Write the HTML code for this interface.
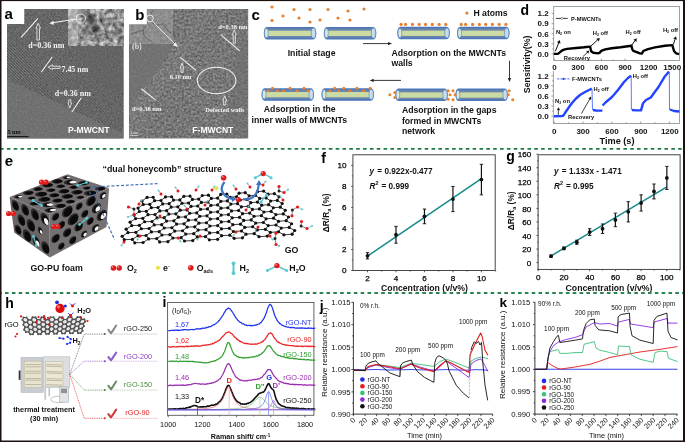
<!DOCTYPE html><html><head><meta charset="utf-8"><style>html,body{margin:0;padding:0;background:#fff;width:685px;height:442px;overflow:hidden}svg{display:block;filter:blur(0.3px)}</style></head><body><svg width="685" height="442" viewBox="0 0 685 442" font-family="Liberation Sans, sans-serif"><defs><filter id="nzA" x="0" y="0" width="1" height="1" color-interpolation-filters="sRGB">
<feTurbulence type="fractalNoise" baseFrequency="0.55" numOctaves="2" seed="3"/>
<feColorMatrix type="matrix" values="0.2777777777777778 0 0 0 0.2561111111111111 0.2777777777777778 0 0 0 0.2561111111111111 0.2777777777777778 0 0 0 0.2561111111111111 0 0 0 0 1"/>
</filter><filter id="nzAi" x="0" y="0" width="1" height="1" color-interpolation-filters="sRGB">
<feTurbulence type="fractalNoise" baseFrequency="0.22" numOctaves="3" seed="9"/>
<feColorMatrix type="matrix" values="0.9444444444444445 0 0 0 0.1077777777777777 0.9444444444444445 0 0 0 0.1077777777777777 0.9444444444444445 0 0 0 0.1077777777777777 0 0 0 0 1"/>
</filter><filter id="nzB" x="0" y="0" width="1" height="1" color-interpolation-filters="sRGB">
<feTurbulence type="fractalNoise" baseFrequency="0.45" numOctaves="2" seed="11"/>
<feColorMatrix type="matrix" values="0.4166666666666667 0 0 0 0.2566666666666667 0.4166666666666667 0 0 0 0.2566666666666667 0.4166666666666667 0 0 0 0.2566666666666667 0 0 0 0 1"/>
</filter><filter id="nzBi" x="0" y="0" width="1" height="1" color-interpolation-filters="sRGB">
<feTurbulence type="fractalNoise" baseFrequency="0.35" numOctaves="2" seed="4"/>
<feColorMatrix type="matrix" values="0.19444444444444448 0 0 0 0.45777777777777784 0.19444444444444448 0 0 0 0.45777777777777784 0.19444444444444448 0 0 0 0.45777777777777784 0 0 0 0 1"/>
</filter><pattern id="fringe" width="2.1" height="2.1" patternUnits="userSpaceOnUse" patternTransform="rotate(45)">
<rect width="2.1" height="0.8" fill="#888" opacity="0.55"/><rect y="1.05" width="2.1" height="0.7" fill="#3a3a3a" opacity="0.35"/></pattern><filter id="blur1" x="-50%" y="-50%" width="200%" height="200%"><feGaussianBlur stdDeviation="1.2"/></filter><filter id="blur05" x="-50%" y="-50%" width="200%" height="200%"><feGaussianBlur stdDeviation="0.6"/></filter></defs><rect width="685" height="442" fill="#fff"/><clipPath id="clipA"><polygon points="7,24 24.3,24 24.3,9 123.6,9 123.6,138.6 7,138.6"/></clipPath>
<g clip-path="url(#clipA)">
<rect x="7" y="9" width="117" height="130" filter="url(#nzA)"/>
<polygon points="7,24 24,9 68,9 68,45 100,45 123.6,70 123.6,134 7,79" fill="url(#fringe)" opacity="0.6"/>
<polygon points="7,40 123.6,98 123.6,134 7,79" fill="url(#fringe)" opacity="0.7"/>
<polygon points="7,79 123.6,134 123.6,138.6 7,138.6" fill="#7c7c7c" opacity="0.8"/>
<polygon points="7,79 123.6,134 123.6,138.6 7,138.6" filter="url(#nzA)" opacity="0.3"/>
<polygon points="123.6,45 123.6,95 90,78 75,45" fill="#646464" opacity="0.45"/>
</g>
<rect x="68" y="9" width="55.6" height="36.3" filter="url(#nzAi)"/>
<rect x="68" y="9" width="10" height="36.3" fill="#c8c8c8" opacity="0.5"/>
<clipPath id="clipAi"><rect x="68" y="9" width="55.6" height="36.3"/></clipPath>
<g clip-path="url(#clipAi)"><g filter="url(#blur1)"><ellipse cx="84" cy="11.5" rx="6" ry="2.5" fill="#666" opacity="0.6"/><ellipse cx="91" cy="20" rx="4" ry="5" fill="#3a3a3a" opacity="0.75"/><ellipse cx="95" cy="29" rx="4" ry="4" fill="#2e2e2e" opacity="0.75"/><ellipse cx="85" cy="30" rx="3" ry="4" fill="#555" opacity="0.6"/><ellipse cx="98" cy="38" rx="4" ry="3" fill="#505050" opacity="0.55"/><ellipse cx="108" cy="20" rx="6" ry="3" fill="#777" opacity="0.5"/><ellipse cx="113" cy="33" rx="6" ry="3" fill="#6a6a6a" opacity="0.5"/><ellipse cx="120.5" cy="31" rx="1.6" ry="2.2" fill="#2a2a2a" opacity="0.8"/><ellipse cx="81" cy="40" rx="3" ry="2" fill="#666" opacity="0.5"/><ellipse cx="90" cy="16" rx="1.8" ry="1.6" fill="#111"/><ellipse cx="96" cy="30" rx="1.8" ry="1.6" fill="#111"/></g></g>
<g stroke="#f2f2f2" fill="none" stroke-width="1.1"><line x1="21.1" y1="37.3" x2="37.9" y2="18.3"/><line x1="41.4" y1="72" x2="52.2" y2="57"/><line x1="71.9" y1="112" x2="81.4" y2="97.8"/><line x1="76.5" y1="19" x2="51" y2="23" stroke-width="1"/><circle cx="80.8" cy="18.6" r="4.6" stroke-width="0.9"/></g>
<polygon points="49.5,23.3 53.5,20.8 53.8,24.9" fill="#f2f2f2"/>
<polygon points="38.2,23.2 40.5,28.2 39.49,28.2 39.49,40 36.91,40 36.91,28.2 35.9,28.2" fill="none" stroke="#f2f2f2" stroke-width="0.8"/>
<polygon points="69.8,108 71.6,103 70.81,103 70.81,99.8 68.79,99.8 68.79,103 68,103" fill="none" stroke="#f2f2f2" stroke-width="0.8"/>
<polygon points="48.1,67.2 52.5,64.8 52.5,66.2 60.1,66.2 60.1,68.4 52.5,68.4 52.5,69.6" fill="none" stroke="#f2f2f2" stroke-width="0.8"/>
<text x="28.3" y="47.7" font-size="8" fill="#f2f2f2" font-weight="bold" text-anchor="start" font-family="Liberation Serif" >d=0.36 nm</text>
<text x="61.5" y="72" font-size="7.9" fill="#f2f2f2" font-weight="bold" text-anchor="start" font-family="Liberation Serif" >7.45 nm</text>
<text x="54.7" y="95.7" font-size="8" fill="#f2f2f2" font-weight="bold" text-anchor="start" font-family="Liberation Serif" >d=0.36 nm</text>
<text x="68" y="133.2" font-size="8.6" fill="#fff" font-weight="bold" text-anchor="start" font-family="Liberation Sans" >P-MWCNT</text>
<line x1="7.3" y1="136.6" x2="28.6" y2="136.6" stroke="#111" stroke-width="1"/>
<text x="7.4" y="134.2" font-size="6.2" fill="#111" font-weight="bold" text-anchor="start" font-family="Liberation Serif" >5 nm</text>
<text x="4.6" y="18.7" font-size="15" fill="#000" font-weight="bold" text-anchor="start" font-family="Liberation Sans" >a</text>
<clipPath id="clipB"><polygon points="129,24.4 146.9,24.4 146.9,9 248.2,9 248.2,138.6 129,138.6"/></clipPath>
<g clip-path="url(#clipB)">
<rect x="129" y="9" width="120" height="130" filter="url(#nzB)"/>
<polygon points="129,44 176,44 137,98 129,110" fill="#717171" opacity="0.75"/>
<polygon points="129,112 137,98 178,44 196,9 214,9 194,46 152,108 140,138.6 129,138.6" fill="#8c8c8c" opacity="0.16"/>
<polygon points="236,52 248.2,40 248.2,138.6 222,138.6 230,100" fill="#696969" opacity="0.35"/>
<polygon points="228,9 248.2,9 248.2,100 232,110 236,60" fill="url(#fringe)" opacity="0.5"/>
<polygon points="200,60 248.2,20 248.2,138.6 200,138.6" fill="#888" opacity="0.06"/>
<rect x="129" y="9" width="43.8" height="34.8" filter="url(#nzBi)"/>
<g stroke="#333" stroke-width="0.55" fill="none" opacity="0.85"><path d="M146.9,25.4 C144.4,27.4 143.2,29.5 143.4,31.4 C143.6,34 144,35.5 144.4,35.9 C145.5,37.5 146.5,38.5 147.4,38.8 C149,40 150.5,41 151.4,41.3"/><path d="M152.4,22.9 C154,23.8 155,24.3 155.9,24.4 C157.5,24.8 159,25 160.3,24.9 C161.8,24.6 162.5,23.7 163.3,23.9 C164.5,24.5 165,25.5 165.3,26.4 C166,28 167,30 167.8,30.9 C169,32 170,32.5 171.3,32.9"/><path d="M131,34.4 C133,33.5 134.5,32.8 136,32.4 C138,31.6 139.5,31.2 140.9,30.9 C142,30.5 142.8,30.1 143.4,29.9"/><path d="M150.9,14 C151.5,12.5 152,11.5 152.4,11 C152.7,10.3 152.8,9.8 152.9,9.5"/></g>
</g>
<g stroke="#f2f2f2" fill="none" stroke-width="1.1"><circle cx="149.9" cy="18.4" r="3.4" stroke-width="0.9"/><line x1="152.2" y1="21" x2="176.2" y2="45.2" stroke-width="0.9"/><line x1="220.7" y1="34.6" x2="239.7" y2="50.9"/><line x1="180" y1="57.1" x2="196.2" y2="70.4"/><line x1="141.3" y1="88.7" x2="155.5" y2="99.9"/><ellipse cx="216.6" cy="80.5" rx="19.3" ry="13.2"/></g>
<polygon points="177.9,47 172.8,45.2 175.8,42.2" fill="#f2f2f2"/>
<polygon points="234.3,29.8 236.2,34.8 235.36,34.8 235.36,43.3 233.24,43.3 233.24,34.8 232.4,34.8" fill="none" stroke="#f2f2f2" stroke-width="0.8"/>
<polygon points="182,63.2 183.8,68.2 183.01,68.2 183.01,72.4 180.99,72.4 180.99,68.2 180.2,68.2" fill="none" stroke="#f2f2f2" stroke-width="0.8"/>
<polygon points="224.7,95.8 226.6,100.8 225.76,100.8 225.76,105 223.64,105 223.64,100.8 222.8,100.8" fill="none" stroke="#f2f2f2" stroke-width="0.8"/>
<text x="218.2" y="28.7" font-size="6.5" fill="#f2f2f2" font-weight="bold" text-anchor="start" font-family="Liberation Serif" >d=0.38 nm</text>
<text x="169.7" y="78.5" font-size="6.4" fill="#f2f2f2" font-weight="bold" text-anchor="start" font-family="Liberation Serif" >8.10 nm</text>
<text x="132" y="111.1" font-size="6.5" fill="#f2f2f2" font-weight="bold" text-anchor="start" font-family="Liberation Serif" >d=0.38 nm</text>
<text x="205.3" y="112.1" font-size="6.4" fill="#f2f2f2" font-weight="bold" text-anchor="start" font-family="Liberation Serif" >Defected walls</text>
<text x="132" y="48.6" font-size="8" fill="#ddd" font-weight="bold" text-anchor="start" font-family="Liberation Serif" >(b)</text>
<text x="192.3" y="132.5" font-size="8.6" fill="#fff" font-weight="bold" text-anchor="start" font-family="Liberation Sans" >F-MWCNT</text>
<text x="130.5" y="134" font-size="3.5" fill="#f2f2f2" font-weight="normal" text-anchor="start" font-family="Liberation Serif" >2 nm</text>
<line x1="130" y1="135.5" x2="138" y2="135.5" stroke="#eee" stroke-width="0.6"/>
<text x="135.3" y="20.1" font-size="15" fill="#000" font-weight="bold" text-anchor="start" font-family="Liberation Sans" >b</text>
<text x="251.6" y="19.7" font-size="15" fill="#000" font-weight="bold" text-anchor="start" font-family="Liberation Sans" >c</text>
<rect x="263.8" y="26.9" width="52.5" height="12.5" rx="3" ry="6" fill="#4a78ba"/><rect x="265.8" y="28.6" width="48.5" height="9.1" fill="#6d85aa"/><rect x="267.3" y="30.7" width="44.5" height="5.3" fill="#cadca4"/><ellipse cx="266.4" cy="33.15" rx="1.9" ry="4.65" fill="#d6ebde" stroke="#5580bd" stroke-width="0.6"/><ellipse cx="313.5" cy="33.15" rx="2.2" ry="5.05" fill="#c6dcf0" stroke="#5580bd" stroke-width="0.6"/>
<rect x="323.8" y="26.9" width="52.5" height="12.5" rx="3" ry="6" fill="#4a78ba"/><rect x="325.8" y="28.6" width="48.5" height="9.1" fill="#6d85aa"/><rect x="327.3" y="30.7" width="44.5" height="5.3" fill="#cadca4"/><ellipse cx="326.4" cy="33.15" rx="1.9" ry="4.65" fill="#d6ebde" stroke="#5580bd" stroke-width="0.6"/><ellipse cx="373.5" cy="33.15" rx="2.2" ry="5.05" fill="#c6dcf0" stroke="#5580bd" stroke-width="0.6"/>
<rect x="397.3" y="26.8" width="52.5" height="12.5" rx="3" ry="6" fill="#4a78ba"/><rect x="399.3" y="28.5" width="48.5" height="9.1" fill="#6d85aa"/><rect x="400.8" y="30.6" width="44.5" height="5.3" fill="#cadca4"/><ellipse cx="399.9" cy="33.05" rx="1.9" ry="4.65" fill="#d6ebde" stroke="#5580bd" stroke-width="0.6"/><ellipse cx="447" cy="33.05" rx="2.2" ry="5.05" fill="#c6dcf0" stroke="#5580bd" stroke-width="0.6"/>
<rect x="457" y="26.8" width="52.5" height="12.5" rx="3" ry="6" fill="#4a78ba"/><rect x="459" y="28.5" width="48.5" height="9.1" fill="#6d85aa"/><rect x="460.5" y="30.6" width="44.5" height="5.3" fill="#cadca4"/><ellipse cx="459.6" cy="33.05" rx="1.9" ry="4.65" fill="#d6ebde" stroke="#5580bd" stroke-width="0.6"/><ellipse cx="506.7" cy="33.05" rx="2.2" ry="5.05" fill="#c6dcf0" stroke="#5580bd" stroke-width="0.6"/>
<rect x="261.5" y="88.2" width="52.5" height="12.5" rx="3" ry="6" fill="#4a78ba"/><rect x="263.5" y="89.9" width="48.5" height="9.1" fill="#6d85aa"/><rect x="265" y="92" width="44.5" height="5.3" fill="#cadca4"/><ellipse cx="264.1" cy="94.45" rx="1.9" ry="4.65" fill="#d6ebde" stroke="#5580bd" stroke-width="0.6"/><ellipse cx="311.2" cy="94.45" rx="2.2" ry="5.05" fill="#c6dcf0" stroke="#5580bd" stroke-width="0.6"/>
<rect x="321.5" y="88.2" width="52.5" height="12.5" rx="3" ry="6" fill="#4a78ba"/><rect x="323.5" y="89.9" width="48.5" height="9.1" fill="#6d85aa"/><rect x="325" y="92" width="44.5" height="5.3" fill="#cadca4"/><ellipse cx="324.1" cy="94.45" rx="1.9" ry="4.65" fill="#d6ebde" stroke="#5580bd" stroke-width="0.6"/><ellipse cx="371.2" cy="94.45" rx="2.2" ry="5.05" fill="#c6dcf0" stroke="#5580bd" stroke-width="0.6"/>
<rect x="395.3" y="88.6" width="52.5" height="12.5" rx="3" ry="6" fill="#4a78ba"/><rect x="397.3" y="90.3" width="48.5" height="9.1" fill="#6d85aa"/><rect x="398.8" y="92.4" width="44.5" height="5.3" fill="#cadca4"/><ellipse cx="397.9" cy="94.85" rx="1.9" ry="4.65" fill="#d6ebde" stroke="#5580bd" stroke-width="0.6"/><ellipse cx="445" cy="94.85" rx="2.2" ry="5.05" fill="#c6dcf0" stroke="#5580bd" stroke-width="0.6"/>
<rect x="455.4" y="88.6" width="52.5" height="12.5" rx="3" ry="6" fill="#4a78ba"/><rect x="457.4" y="90.3" width="48.5" height="9.1" fill="#6d85aa"/><rect x="458.9" y="92.4" width="44.5" height="5.3" fill="#cadca4"/><ellipse cx="458" cy="94.85" rx="1.9" ry="4.65" fill="#d6ebde" stroke="#5580bd" stroke-width="0.6"/><ellipse cx="505.1" cy="94.85" rx="2.2" ry="5.05" fill="#c6dcf0" stroke="#5580bd" stroke-width="0.6"/>
<circle cx="272" cy="7" r="1.6" fill="#e8812e"/>
<circle cx="294" cy="9.5" r="1.6" fill="#e8812e"/>
<circle cx="310" cy="9.5" r="1.6" fill="#e8812e"/>
<circle cx="328" cy="9.5" r="1.6" fill="#e8812e"/>
<circle cx="348" cy="11" r="1.6" fill="#e8812e"/>
<circle cx="364" cy="9" r="1.6" fill="#e8812e"/>
<circle cx="283" cy="16" r="1.6" fill="#e8812e"/>
<circle cx="299" cy="18" r="1.6" fill="#e8812e"/>
<circle cx="320" cy="20" r="1.6" fill="#e8812e"/>
<circle cx="338" cy="18" r="1.6" fill="#e8812e"/>
<circle cx="350" cy="20" r="1.6" fill="#e8812e"/>
<circle cx="272" cy="20.5" r="1.6" fill="#e8812e"/>
<circle cx="310" cy="22" r="1.6" fill="#e8812e"/>
<circle cx="401.1" cy="24.4" r="1.6" fill="#e8812e"/>
<circle cx="405.5" cy="24.4" r="1.6" fill="#e8812e"/>
<circle cx="412.5" cy="24.4" r="1.6" fill="#e8812e"/>
<circle cx="419.2" cy="24.4" r="1.6" fill="#e8812e"/>
<circle cx="425.6" cy="24.4" r="1.6" fill="#e8812e"/>
<circle cx="432.3" cy="24.4" r="1.6" fill="#e8812e"/>
<circle cx="439.1" cy="24.4" r="1.6" fill="#e8812e"/>
<circle cx="445.8" cy="24.4" r="1.6" fill="#e8812e"/>
<circle cx="461.2" cy="24.4" r="1.6" fill="#e8812e"/>
<circle cx="465.6" cy="24.4" r="1.6" fill="#e8812e"/>
<circle cx="472.6" cy="24.4" r="1.6" fill="#e8812e"/>
<circle cx="479.3" cy="24.4" r="1.6" fill="#e8812e"/>
<circle cx="485.7" cy="24.4" r="1.6" fill="#e8812e"/>
<circle cx="492.4" cy="24.4" r="1.6" fill="#e8812e"/>
<circle cx="499.2" cy="24.4" r="1.6" fill="#e8812e"/>
<circle cx="505.9" cy="24.4" r="1.6" fill="#e8812e"/>
<circle cx="268.3" cy="90.8" r="1.55" fill="#e8812e"/>
<circle cx="272.5" cy="88.2" r="1.55" fill="#e8812e"/>
<circle cx="277.4" cy="90.8" r="1.55" fill="#e8812e"/>
<circle cx="283.5" cy="90.8" r="1.55" fill="#e8812e"/>
<circle cx="290.1" cy="88.2" r="1.55" fill="#e8812e"/>
<circle cx="297.1" cy="90.8" r="1.55" fill="#e8812e"/>
<circle cx="304" cy="88.2" r="1.55" fill="#e8812e"/>
<circle cx="308.2" cy="90.8" r="1.55" fill="#e8812e"/>
<circle cx="330" cy="90.8" r="1.55" fill="#e8812e"/>
<circle cx="334.7" cy="88.2" r="1.55" fill="#e8812e"/>
<circle cx="338.5" cy="90.8" r="1.55" fill="#e8812e"/>
<circle cx="343.8" cy="88.2" r="1.55" fill="#e8812e"/>
<circle cx="349.9" cy="90.8" r="1.55" fill="#e8812e"/>
<circle cx="356.9" cy="88.2" r="1.55" fill="#e8812e"/>
<circle cx="363.6" cy="90.8" r="1.55" fill="#e8812e"/>
<circle cx="370.2" cy="88.2" r="1.55" fill="#e8812e"/>
<circle cx="389.9" cy="94.8" r="1.5" fill="#e8812e"/>
<circle cx="394.9" cy="92.6" r="1.5" fill="#e8812e"/>
<circle cx="394.9" cy="97.4" r="1.5" fill="#e8812e"/>
<circle cx="448.1" cy="90.8" r="1.5" fill="#e8812e"/>
<circle cx="453" cy="90.8" r="1.5" fill="#e8812e"/>
<circle cx="450" cy="94.8" r="1.5" fill="#e8812e"/>
<circle cx="455" cy="94.8" r="1.5" fill="#e8812e"/>
<circle cx="448.1" cy="99.3" r="1.5" fill="#e8812e"/>
<circle cx="453" cy="99.7" r="1.5" fill="#e8812e"/>
<circle cx="509.2" cy="90.8" r="1.5" fill="#e8812e"/>
<circle cx="508.2" cy="94.8" r="1.5" fill="#e8812e"/>
<circle cx="512.7" cy="99.7" r="1.5" fill="#e8812e"/>
<circle cx="466.9" cy="13.1" r="1.6" fill="#e8812e"/>
<text x="473.4" y="16.4" font-size="8.7" fill="#111" font-weight="bold" text-anchor="start" font-family="Liberation Sans" >H atoms</text>
<text x="287.7" y="55.8" fill="#111" font-weight="bold" font-size="8.7" font-family="Liberation Sans">Initial stage</text>
<text x="391.4" y="56.4" fill="#111" font-weight="bold" font-size="8.7" font-family="Liberation Sans">Adsorption on the MWCNTs</text>
<text x="391.4" y="65.8" fill="#111" font-weight="bold" font-size="8.7" font-family="Liberation Sans">walls</text>
<text x="263.8" y="111.6" fill="#111" font-weight="bold" font-size="8.7" font-family="Liberation Sans">Adsorption in the</text>
<text x="251.6" y="122.6" fill="#111" font-weight="bold" font-size="8.7" font-family="Liberation Sans">inner walls of MWCNTs</text>
<text x="401.9" y="113.2" fill="#111" font-weight="bold" font-size="8.7" font-family="Liberation Sans">Adsorption in the gaps</text>
<text x="401.9" y="123.8" fill="#111" font-weight="bold" font-size="8.7" font-family="Liberation Sans">formed in MWCNTs</text>
<text x="401.9" y="133.6" fill="#111" font-weight="bold" font-size="8.7" font-family="Liberation Sans">network</text>
<g stroke="#222" stroke-width="0.9" fill="#222"><line x1="363" y1="43.6" x2="389" y2="43.6"/><polygon points="392,43.6 388,41.9 388,45.3" stroke="none"/><line x1="509.5" y1="60.7" x2="509.5" y2="79"/><polygon points="509.5,82 507.8,78 511.2,78" stroke="none"/><line x1="401" y1="80.4" x2="373" y2="80.4"/><polygon points="369.7,80.4 373.7,78.7 373.7,82.1" stroke="none"/></g>
<text x="520.6" y="14.6" font-size="14" fill="#000" font-weight="bold" text-anchor="start" font-family="Liberation Sans" >d</text>
<rect x="553.7" y="6.4" width="125.8" height="54" fill="none" stroke="#8a8a8a" stroke-width="0.8"/>
<polyline points="553.4,71 553.4,123.5 679.5,123.5 679.5,69.5" fill="none" stroke="#8a8a8a" stroke-width="0.8"/>
<g stroke="#777" stroke-width="0.7"><line x1="551.6" y1="53.9" x2="553.7" y2="53.9"/><line x1="552.4" y1="48.82" x2="553.7" y2="48.82"/><line x1="551.6" y1="43.83" x2="553.7" y2="43.83"/><line x1="552.4" y1="38.75" x2="553.7" y2="38.75"/><line x1="551.6" y1="33.76" x2="553.7" y2="33.76"/><line x1="552.4" y1="28.68" x2="553.7" y2="28.68"/><line x1="551.6" y1="23.69" x2="553.7" y2="23.69"/><line x1="552.4" y1="18.61" x2="553.7" y2="18.61"/><line x1="551.6" y1="13.62" x2="553.7" y2="13.62"/><line x1="554.4" y1="60.4" x2="554.4" y2="58.6"/><line x1="566.18" y1="60.4" x2="566.18" y2="59.4"/><line x1="577.96" y1="60.4" x2="577.96" y2="58.6"/><line x1="589.74" y1="60.4" x2="589.74" y2="59.4"/><line x1="601.52" y1="60.4" x2="601.52" y2="58.6"/><line x1="613.3" y1="60.4" x2="613.3" y2="59.4"/><line x1="625.08" y1="60.4" x2="625.08" y2="58.6"/><line x1="551.3" y1="116.2" x2="553.4" y2="116.2"/><line x1="552.1" y1="111.15" x2="553.4" y2="111.15"/><line x1="551.3" y1="106.1" x2="553.4" y2="106.1"/><line x1="552.1" y1="101.05" x2="553.4" y2="101.05"/><line x1="551.3" y1="96" x2="553.4" y2="96"/><line x1="552.1" y1="90.95" x2="553.4" y2="90.95"/><line x1="551.3" y1="85.9" x2="553.4" y2="85.9"/><line x1="552.1" y1="80.85" x2="553.4" y2="80.85"/><line x1="551.3" y1="75.8" x2="553.4" y2="75.8"/><line x1="554.2" y1="123.5" x2="554.2" y2="121.5"/><line x1="568.6" y1="123.5" x2="568.6" y2="122.3"/><line x1="583" y1="123.5" x2="583" y2="121.5"/><line x1="597.4" y1="123.5" x2="597.4" y2="122.3"/><line x1="611.8" y1="123.5" x2="611.8" y2="121.5"/><line x1="626.2" y1="123.5" x2="626.2" y2="122.3"/><line x1="640.6" y1="123.5" x2="640.6" y2="121.5"/><line x1="655" y1="123.5" x2="655" y2="122.3"/><line x1="669.4" y1="123.5" x2="669.4" y2="121.5"/><line x1="683.8" y1="123.5" x2="683.8" y2="122.3"/></g>
<text x="548.6" y="56.7" text-anchor="end" font-size="8" font-weight="bold" font-family="Liberation Sans" fill="#111">0.0</text>
<text x="548.6" y="119" text-anchor="end" font-size="8" font-weight="bold" font-family="Liberation Sans" fill="#111">0.0</text>
<text x="548.6" y="46.63" text-anchor="end" font-size="8" font-weight="bold" font-family="Liberation Sans" fill="#111">0.3</text>
<text x="548.6" y="108.9" text-anchor="end" font-size="8" font-weight="bold" font-family="Liberation Sans" fill="#111">0.3</text>
<text x="548.6" y="36.56" text-anchor="end" font-size="8" font-weight="bold" font-family="Liberation Sans" fill="#111">0.6</text>
<text x="548.6" y="98.8" text-anchor="end" font-size="8" font-weight="bold" font-family="Liberation Sans" fill="#111">0.6</text>
<text x="548.6" y="26.49" text-anchor="end" font-size="8" font-weight="bold" font-family="Liberation Sans" fill="#111">0.9</text>
<text x="548.6" y="88.7" text-anchor="end" font-size="8" font-weight="bold" font-family="Liberation Sans" fill="#111">0.9</text>
<text x="548.6" y="16.42" text-anchor="end" font-size="8" font-weight="bold" font-family="Liberation Sans" fill="#111">1.2</text>
<text x="548.6" y="78.6" text-anchor="end" font-size="8" font-weight="bold" font-family="Liberation Sans" fill="#111">1.2</text>
<text x="554.4" y="70.1" text-anchor="middle" font-size="8" font-weight="bold" font-family="Liberation Sans" fill="#111">0</text>
<text x="577.96" y="70.1" text-anchor="middle" font-size="8" font-weight="bold" font-family="Liberation Sans" fill="#111">300</text>
<text x="601.52" y="70.1" text-anchor="middle" font-size="8" font-weight="bold" font-family="Liberation Sans" fill="#111">600</text>
<text x="625.08" y="70.1" text-anchor="middle" font-size="8" font-weight="bold" font-family="Liberation Sans" fill="#111">900</text>
<text x="648.64" y="70.1" text-anchor="middle" font-size="8" font-weight="bold" font-family="Liberation Sans" fill="#111">1200</text>
<text x="672.2" y="70.1" text-anchor="middle" font-size="8" font-weight="bold" font-family="Liberation Sans" fill="#111">1500</text>
<text x="554.2" y="134" text-anchor="middle" font-size="8" font-weight="bold" font-family="Liberation Sans" fill="#111">0</text>
<text x="583.1" y="134" text-anchor="middle" font-size="8" font-weight="bold" font-family="Liberation Sans" fill="#111">300</text>
<text x="612" y="134" text-anchor="middle" font-size="8" font-weight="bold" font-family="Liberation Sans" fill="#111">600</text>
<text x="640.9" y="134" text-anchor="middle" font-size="8" font-weight="bold" font-family="Liberation Sans" fill="#111">900</text>
<text x="669.8" y="134" text-anchor="middle" font-size="8" font-weight="bold" font-family="Liberation Sans" fill="#111">1200</text>
<text x="617" y="144.3" text-anchor="middle" font-size="9.2" font-weight="bold" font-family="Liberation Sans" fill="#111">Time (s)</text>
<text transform="translate(529.6,64.3) rotate(-90)" text-anchor="middle" font-size="8.8" font-weight="bold" font-family="Liberation Sans" fill="#111">Sensitivity(%)</text>
<polyline points="553.9,53.9 557.9,53.9 559.5,52.6 561.8,50.6 564,49.6 567.1,48.9 576.3,48 584.1,47.3 590.1,46.6 590.7,49.3 591.4,51.6 593.3,52.8 596,53.1 598.6,53.2 599.9,52.6 601.2,50.9 605.2,49.4 611.7,48.2 620.5,47.3 631.5,45.8 632.2,49.2 633.3,50.9 636,51.8 640,53.4 642,53.6 643.2,51 648,49.2 655,47.4 665,45.7 672.3,45.1 673,47.5 674,50.9 676,53.3 679,54.1" fill="none" stroke="#000" stroke-width="2.4" stroke-linejoin="round"/>
<line x1="555.9" y1="18.4" x2="567.7" y2="18.4" stroke="#222" stroke-width="0.9"/><circle cx="562" cy="18.4" r="1.1" fill="#fff" stroke="#555" stroke-width="0.5"/>
<text x="571" y="20.8" font-size="5.7" font-weight="bold" font-family="Liberation Sans" fill="#111">P-MWCNTs</text>
<text x="555.9" y="34.2" font-size="5.8" font-weight="bold" font-family="Liberation Sans" fill="#111">N<tspan font-size="3.5" dy="1">2</tspan><tspan dy="-1"> on</tspan></text>
<text x="592.7" y="34.5" font-size="5.8" font-weight="bold" font-family="Liberation Sans" fill="#111">H<tspan font-size="3.5" dy="1">2</tspan><tspan dy="-1"> off</tspan></text>
<text x="625.6" y="34.3" font-size="5.8" font-weight="bold" font-family="Liberation Sans" fill="#111">H<tspan font-size="3.5" dy="1">2</tspan><tspan dy="-1"> off</tspan></text>
<text x="662.9" y="32.3" font-size="5.8" font-weight="bold" font-family="Liberation Sans" fill="#111">H<tspan font-size="3.5" dy="1">2</tspan><tspan dy="-1"> off</tspan></text>
<text x="563.8" y="59.6" font-size="5.8" font-weight="bold" font-family="Liberation Sans" fill="#111">Recovery</text>
<line x1="555.3" y1="51.3" x2="558.68" y2="43.06" stroke="#111" stroke-width="1.0"/><polygon points="559.9,40.1 560.44,43.78 556.93,42.34" fill="#111"/>
<line x1="590.7" y1="46.2" x2="597.52" y2="40.04" stroke="#111" stroke-width="1.0"/><polygon points="599.9,37.9 598.8,41.45 596.25,38.63" fill="#111"/>
<line x1="631.8" y1="45" x2="634.9" y2="40.78" stroke="#111" stroke-width="1.0"/><polygon points="636.8,38.2 636.44,41.9 633.37,39.65" fill="#111"/>
<line x1="673.4" y1="44.5" x2="675.04" y2="39.25" stroke="#111" stroke-width="1.0"/><polygon points="676,36.2 676.86,39.82 673.23,38.69" fill="#111"/>
<line x1="583" y1="56.5" x2="587.19" y2="52.63" stroke="#111" stroke-width="0.8"/><polygon points="589.4,50.6 588.28,53.81 586.11,51.46" fill="#111"/>
<polyline points="554,116.3 562,116 563.5,115.5 565,113 568,108.5 572,103 576,98.5 580,95 585,92 589,90 591.8,88.7" fill="none" stroke="#2244ff" stroke-width="2.4" stroke-linejoin="round"/>
<polyline points="593,110 596,110.5 602.4,110.6" fill="none" stroke="#2244ff" stroke-width="2.4" stroke-linejoin="round"/>
<polyline points="602.6,105.5 606,102 612,97 618,90 624,82 628,78 631.1,75.6" fill="none" stroke="#2244ff" stroke-width="2.4" stroke-linejoin="round"/>
<polyline points="632,110 636,110.4 641,110.3 643,103.3 646,100 650.8,97.5 654,93 658.5,87 664.2,77.3 669,71.5" fill="none" stroke="#2244ff" stroke-width="2.4" stroke-linejoin="round"/>
<polyline points="670,109.5 674,111 679.4,111.5" fill="none" stroke="#2244ff" stroke-width="2.4" stroke-linejoin="round"/>
<g stroke="#3355ff" stroke-width="0.8"><line x1="592" y1="89" x2="592.5" y2="110"/><line x1="631.2" y1="76" x2="631.4" y2="110"/><line x1="669.3" y1="72" x2="669.5" y2="110"/></g>
<line x1="557.1" y1="78.9" x2="570" y2="78.9" stroke="#4466ff" stroke-width="1" stroke-dasharray="2.2 1.2"/><circle cx="563.5" cy="78.9" r="1.1" fill="#2244ff"/>
<text x="572" y="81" font-size="5.7" font-weight="bold" font-family="Liberation Sans" fill="#111">F-MWCNTs</text>
<text x="555.1" y="103" font-size="5.8" font-weight="bold" font-family="Liberation Sans" fill="#111">N<tspan font-size="3.5" dy="1">2</tspan><tspan dy="-1"> on</tspan></text>
<text x="593.5" y="90.8" font-size="5.8" font-weight="bold" font-family="Liberation Sans" fill="#111">H<tspan font-size="3.5" dy="1">2</tspan><tspan dy="-1"> off</tspan></text>
<text x="632.8" y="78.3" font-size="5.8" font-weight="bold" font-family="Liberation Sans" fill="#111">H<tspan font-size="3.5" dy="1">2</tspan><tspan dy="-1"> off</tspan></text>
<text x="568" y="119.3" font-size="5.8" font-weight="bold" font-family="Liberation Sans" fill="#111">Recovery</text>
<line x1="558.2" y1="114.8" x2="558.44" y2="110.2" stroke="#111" stroke-width="0.8"/><polygon points="558.6,107.2 560.04,110.28 556.84,110.11" fill="#111"/>
<line x1="581.5" y1="113.5" x2="589.71" y2="99.11" stroke="#111" stroke-width="0.8"/><polygon points="591.2,96.5 591.1,99.9 588.32,98.31" fill="#111"/>
<text x="4.7" y="165.8" font-size="15" fill="#000" font-weight="bold" text-anchor="start" font-family="Liberation Sans" >e</text>
<text x="102.6" y="171.5" font-size="8.8" fill="#111" font-weight="bold" text-anchor="start" font-family="Liberation Sans" >“dual honeycomb” structure</text>
<polygon points="9.6,197 67.4,174.2 109,188 49.5,214" fill="#736d70"/>
<polygon points="9.6,197 49.5,214 49.9,257.5 14.2,232.5" fill="#6b6568" />
<polygon points="49.5,214 109,188 106.5,227 49.9,257.5" fill="#757072"/>
<circle r="1" fill="#2a2a2a" transform="matrix(3.17 -1.32 2.88 1.09 18.42 196.77)"/><circle r="0.8" cx="0.15" cy="0.15" fill="#0a0a0a" transform="matrix(3.17 -1.32 2.88 1.09 18.42 196.77)"/><circle r="0.55" cx="0.35" cy="0.3" fill="#f4f4f4" transform="matrix(3.17 -1.32 2.88 1.09 18.42 196.77)"/><circle r="1" fill="#2a2a2a" transform="matrix(3.81 -1.58 3.46 1.31 28.08 192.92)"/><circle r="0.8" cx="0.15" cy="0.15" fill="#0a0a0a" transform="matrix(3.81 -1.58 3.46 1.31 28.08 192.92)"/><circle r="1" fill="#2a2a2a" transform="matrix(3.44 -1.43 3.13 1.18 37.74 189.07)"/><circle r="0.8" cx="0.15" cy="0.15" fill="#0a0a0a" transform="matrix(3.44 -1.43 3.13 1.18 37.74 189.07)"/><circle r="1" fill="#2a2a2a" transform="matrix(3.93 -1.64 3.58 1.35 47.41 185.21)"/><circle r="0.8" cx="0.15" cy="0.15" fill="#0a0a0a" transform="matrix(3.93 -1.64 3.58 1.35 47.41 185.21)"/><circle r="1" fill="#2a2a2a" transform="matrix(3.98 -1.66 3.62 1.37 57.07 181.36)"/><circle r="0.8" cx="0.15" cy="0.15" fill="#0a0a0a" transform="matrix(3.98 -1.66 3.62 1.37 57.07 181.36)"/><circle r="1" fill="#2a2a2a" transform="matrix(2.81 -1.17 2.55 0.96 66.73 177.51)"/><circle r="0.8" cx="0.15" cy="0.15" fill="#0a0a0a" transform="matrix(2.81 -1.17 2.55 0.96 66.73 177.51)"/><circle r="0.55" cx="0.35" cy="0.3" fill="#f4f4f4" transform="matrix(2.81 -1.17 2.55 0.96 66.73 177.51)"/><circle r="1" fill="#2a2a2a" transform="matrix(2.7 -1.12 2.45 0.93 31.29 198.14)"/><circle r="0.8" cx="0.15" cy="0.15" fill="#0a0a0a" transform="matrix(2.7 -1.12 2.45 0.93 31.29 198.14)"/><circle r="1" fill="#2a2a2a" transform="matrix(4.42 -1.84 4.02 1.52 41.01 194.18)"/><circle r="0.8" cx="0.15" cy="0.15" fill="#0a0a0a" transform="matrix(4.42 -1.84 4.02 1.52 41.01 194.18)"/><circle r="1" fill="#2a2a2a" transform="matrix(3.21 -1.34 2.92 1.1 50.72 190.22)"/><circle r="0.8" cx="0.15" cy="0.15" fill="#0a0a0a" transform="matrix(3.21 -1.34 2.92 1.1 50.72 190.22)"/><circle r="1" fill="#2a2a2a" transform="matrix(3.16 -1.31 2.87 1.09 60.44 186.26)"/><circle r="0.8" cx="0.15" cy="0.15" fill="#0a0a0a" transform="matrix(3.16 -1.31 2.87 1.09 60.44 186.26)"/><circle r="1" fill="#2a2a2a" transform="matrix(4.76 -1.98 4.32 1.63 70.16 182.3)"/><circle r="0.8" cx="0.15" cy="0.15" fill="#0a0a0a" transform="matrix(4.76 -1.98 4.32 1.63 70.16 182.3)"/><circle r="0.55" cx="0.35" cy="0.3" fill="#f4f4f4" transform="matrix(4.76 -1.98 4.32 1.63 70.16 182.3)"/><circle r="1" fill="#2a2a2a" transform="matrix(3.65 -1.52 3.32 1.25 34.44 203.47)"/><circle r="0.8" cx="0.15" cy="0.15" fill="#0a0a0a" transform="matrix(3.65 -1.52 3.32 1.25 34.44 203.47)"/><circle r="1" fill="#2a2a2a" transform="matrix(4.42 -1.84 4.02 1.52 44.21 199.4)"/><circle r="0.8" cx="0.15" cy="0.15" fill="#0a0a0a" transform="matrix(4.42 -1.84 4.02 1.52 44.21 199.4)"/><circle r="1" fill="#2a2a2a" transform="matrix(3.67 -1.53 3.33 1.26 53.99 195.33)"/><circle r="0.8" cx="0.15" cy="0.15" fill="#0a0a0a" transform="matrix(3.67 -1.53 3.33 1.26 53.99 195.33)"/><circle r="1" fill="#2a2a2a" transform="matrix(4.01 -1.67 3.64 1.38 63.76 191.27)"/><circle r="0.8" cx="0.15" cy="0.15" fill="#0a0a0a" transform="matrix(4.01 -1.67 3.64 1.38 63.76 191.27)"/><circle r="1" fill="#2a2a2a" transform="matrix(2.98 -1.24 2.71 1.02 73.54 187.2)"/><circle r="0.8" cx="0.15" cy="0.15" fill="#0a0a0a" transform="matrix(2.98 -1.24 2.71 1.02 73.54 187.2)"/><circle r="1" fill="#2a2a2a" transform="matrix(4 -1.66 3.63 1.37 83.31 183.13)"/><circle r="0.8" cx="0.15" cy="0.15" fill="#0a0a0a" transform="matrix(4 -1.66 3.63 1.37 83.31 183.13)"/><circle r="1" fill="#2a2a2a" transform="matrix(4.49 -1.87 4.08 1.54 47.36 204.73)"/><circle r="0.8" cx="0.15" cy="0.15" fill="#0a0a0a" transform="matrix(4.49 -1.87 4.08 1.54 47.36 204.73)"/><circle r="0.55" cx="0.35" cy="0.3" fill="#f4f4f4" transform="matrix(4.49 -1.87 4.08 1.54 47.36 204.73)"/><circle r="1" fill="#2a2a2a" transform="matrix(3.77 -1.57 3.42 1.29 57.19 200.55)"/><circle r="0.8" cx="0.15" cy="0.15" fill="#0a0a0a" transform="matrix(3.77 -1.57 3.42 1.29 57.19 200.55)"/><circle r="1" fill="#2a2a2a" transform="matrix(4.22 -1.76 3.84 1.45 67.03 196.38)"/><circle r="0.8" cx="0.15" cy="0.15" fill="#0a0a0a" transform="matrix(4.22 -1.76 3.84 1.45 67.03 196.38)"/><circle r="1" fill="#2a2a2a" transform="matrix(4.08 -1.7 3.7 1.4 76.86 192.21)"/><circle r="0.8" cx="0.15" cy="0.15" fill="#0a0a0a" transform="matrix(4.08 -1.7 3.7 1.4 76.86 192.21)"/><circle r="1" fill="#2a2a2a" transform="matrix(2.8 -1.17 2.55 0.96 86.69 188.03)"/><circle r="0.8" cx="0.15" cy="0.15" fill="#0a0a0a" transform="matrix(2.8 -1.17 2.55 0.96 86.69 188.03)"/><circle r="1" fill="#2a2a2a" transform="matrix(4.26 -1.77 3.87 1.46 50.45 210.16)"/><circle r="0.8" cx="0.15" cy="0.15" fill="#0a0a0a" transform="matrix(4.26 -1.77 3.87 1.46 50.45 210.16)"/><circle r="0.55" cx="0.35" cy="0.3" fill="#f4f4f4" transform="matrix(4.26 -1.77 3.87 1.46 50.45 210.16)"/><circle r="1" fill="#2a2a2a" transform="matrix(3.91 -1.63 3.55 1.34 60.34 205.88)"/><circle r="0.8" cx="0.15" cy="0.15" fill="#0a0a0a" transform="matrix(3.91 -1.63 3.55 1.34 60.34 205.88)"/><circle r="1" fill="#2a2a2a" transform="matrix(3.3 -1.37 3 1.13 70.23 201.6)"/><circle r="0.8" cx="0.15" cy="0.15" fill="#0a0a0a" transform="matrix(3.3 -1.37 3 1.13 70.23 201.6)"/><circle r="1" fill="#2a2a2a" transform="matrix(2.73 -1.14 2.48 0.94 80.12 197.32)"/><circle r="0.8" cx="0.15" cy="0.15" fill="#0a0a0a" transform="matrix(2.73 -1.14 2.48 0.94 80.12 197.32)"/><circle r="1" fill="#2a2a2a" transform="matrix(4.48 -1.87 4.07 1.54 90.01 193.04)"/><circle r="0.8" cx="0.15" cy="0.15" fill="#0a0a0a" transform="matrix(4.48 -1.87 4.07 1.54 90.01 193.04)"/><circle r="1" fill="#2a2a2a" transform="matrix(3.66 -1.52 3.33 1.26 99.9 188.76)"/><circle r="0.8" cx="0.15" cy="0.15" fill="#0a0a0a" transform="matrix(3.66 -1.52 3.33 1.26 99.9 188.76)"/>
<circle r="1" fill="#2a2a2a" transform="matrix(3.55 1.97 0.31 4.94 15.27 205.21)"/><circle r="0.8" cx="0.15" cy="0.15" fill="#0a0a0a" transform="matrix(3.55 1.97 0.31 4.94 15.27 205.21)"/><circle r="1" fill="#2a2a2a" transform="matrix(3.77 2.09 0.33 5.25 25.07 209.79)"/><circle r="0.8" cx="0.15" cy="0.15" fill="#0a0a0a" transform="matrix(3.77 2.09 0.33 5.25 25.07 209.79)"/><circle r="1" fill="#2a2a2a" transform="matrix(3.87 2.15 0.34 5.39 34.87 214.38)"/><circle r="0.8" cx="0.15" cy="0.15" fill="#0a0a0a" transform="matrix(3.87 2.15 0.34 5.39 34.87 214.38)"/><circle r="1" fill="#2a2a2a" transform="matrix(4.14 2.3 0.37 5.77 44.67 218.96)"/><circle r="0.8" cx="0.15" cy="0.15" fill="#0a0a0a" transform="matrix(4.14 2.3 0.37 5.77 44.67 218.96)"/><circle r="0.55" cx="0.35" cy="0.3" fill="#f4f4f4" transform="matrix(4.14 2.3 0.37 5.77 44.67 218.96)"/><circle r="1" fill="#2a2a2a" transform="matrix(3.77 2.09 0.33 5.25 21.35 220)"/><circle r="0.8" cx="0.15" cy="0.15" fill="#0a0a0a" transform="matrix(3.77 2.09 0.33 5.25 21.35 220)"/><circle r="1" fill="#2a2a2a" transform="matrix(4.11 2.28 0.36 5.72 30.8 225.25)"/><circle r="0.8" cx="0.15" cy="0.15" fill="#0a0a0a" transform="matrix(4.11 2.28 0.36 5.72 30.8 225.25)"/><circle r="1" fill="#2a2a2a" transform="matrix(2.44 1.35 0.21 3.39 40.25 230.5)"/><circle r="0.8" cx="0.15" cy="0.15" fill="#0a0a0a" transform="matrix(2.44 1.35 0.21 3.39 40.25 230.5)"/><circle r="0.55" cx="0.35" cy="0.3" fill="#f4f4f4" transform="matrix(2.44 1.35 0.21 3.39 40.25 230.5)"/><circle r="1" fill="#2a2a2a" transform="matrix(3.25 1.81 0.29 4.53 17.98 229.54)"/><circle r="0.8" cx="0.15" cy="0.15" fill="#0a0a0a" transform="matrix(3.25 1.81 0.29 4.53 17.98 229.54)"/><circle r="1" fill="#2a2a2a" transform="matrix(4.15 2.3 0.37 5.78 27.08 235.46)"/><circle r="0.8" cx="0.15" cy="0.15" fill="#0a0a0a" transform="matrix(4.15 2.3 0.37 5.78 27.08 235.46)"/><circle r="1" fill="#2a2a2a" transform="matrix(3.6 2 0.32 5.01 36.18 241.38)"/><circle r="0.8" cx="0.15" cy="0.15" fill="#0a0a0a" transform="matrix(3.6 2 0.32 5.01 36.18 241.38)"/><circle r="0.55" cx="0.35" cy="0.3" fill="#f4f4f4" transform="matrix(3.6 2 0.32 5.01 36.18 241.38)"/><circle r="1" fill="#2a2a2a" transform="matrix(4.07 2.26 0.36 5.67 45.28 247.29)"/><circle r="0.8" cx="0.15" cy="0.15" fill="#0a0a0a" transform="matrix(4.07 2.26 0.36 5.67 45.28 247.29)"/>
<circle r="1" fill="#2a2a2a" transform="matrix(3.59 -1.75 -0.09 3.57 55.46 216.78)"/><circle r="0.8" cx="0.15" cy="0.15" fill="#0a0a0a" transform="matrix(3.59 -1.75 -0.09 3.57 55.46 216.78)"/><circle r="1" fill="#2a2a2a" transform="matrix(5.35 -2.6 -0.14 5.32 67.29 211.47)"/><circle r="0.8" cx="0.15" cy="0.15" fill="#0a0a0a" transform="matrix(5.35 -2.6 -0.14 5.32 67.29 211.47)"/><circle r="1" fill="#2a2a2a" transform="matrix(3.35 -1.63 -0.08 3.33 79.12 206.16)"/><circle r="0.8" cx="0.15" cy="0.15" fill="#0a0a0a" transform="matrix(3.35 -1.63 -0.08 3.33 79.12 206.16)"/><circle r="1" fill="#2a2a2a" transform="matrix(4.74 -2.3 -0.12 4.71 90.95 200.84)"/><circle r="0.8" cx="0.15" cy="0.15" fill="#0a0a0a" transform="matrix(4.74 -2.3 -0.12 4.71 90.95 200.84)"/><circle r="1" fill="#2a2a2a" transform="matrix(3.25 -1.58 -0.08 3.23 102.77 195.53)"/><circle r="0.8" cx="0.15" cy="0.15" fill="#0a0a0a" transform="matrix(3.25 -1.58 -0.08 3.23 102.77 195.53)"/><circle r="0.55" cx="0.35" cy="0.3" fill="#f4f4f4" transform="matrix(3.25 -1.58 -0.08 3.23 102.77 195.53)"/><circle r="1" fill="#2a2a2a" transform="matrix(3.64 -1.77 -0.09 3.62 61.33 224.78)"/><circle r="0.8" cx="0.15" cy="0.15" fill="#0a0a0a" transform="matrix(3.64 -1.77 -0.09 3.62 61.33 224.78)"/><circle r="1" fill="#2a2a2a" transform="matrix(5.44 -2.65 -0.14 5.41 73.02 219.24)"/><circle r="0.8" cx="0.15" cy="0.15" fill="#0a0a0a" transform="matrix(5.44 -2.65 -0.14 5.41 73.02 219.24)"/><circle r="1" fill="#2a2a2a" transform="matrix(3.55 -1.73 -0.09 3.53 84.7 213.7)"/><circle r="0.8" cx="0.15" cy="0.15" fill="#0a0a0a" transform="matrix(3.55 -1.73 -0.09 3.53 84.7 213.7)"/><circle r="1" fill="#2a2a2a" transform="matrix(4.58 -2.23 -0.12 4.56 96.38 208.16)"/><circle r="0.8" cx="0.15" cy="0.15" fill="#0a0a0a" transform="matrix(4.58 -2.23 -0.12 4.56 96.38 208.16)"/><circle r="0.55" cx="0.35" cy="0.3" fill="#f4f4f4" transform="matrix(4.58 -2.23 -0.12 4.56 96.38 208.16)"/><circle r="1" fill="#2a2a2a" transform="matrix(4.15 -2.02 -0.11 4.13 55.52 238.31)"/><circle r="0.8" cx="0.15" cy="0.15" fill="#0a0a0a" transform="matrix(4.15 -2.02 -0.11 4.13 55.52 238.31)"/><circle r="1" fill="#2a2a2a" transform="matrix(4.13 -2.01 -0.1 4.11 67.06 232.54)"/><circle r="0.8" cx="0.15" cy="0.15" fill="#0a0a0a" transform="matrix(4.13 -2.01 -0.1 4.11 67.06 232.54)"/><circle r="1" fill="#2a2a2a" transform="matrix(4.23 -2.06 -0.11 4.21 78.59 226.78)"/><circle r="0.8" cx="0.15" cy="0.15" fill="#0a0a0a" transform="matrix(4.23 -2.06 -0.11 4.21 78.59 226.78)"/><circle r="1" fill="#2a2a2a" transform="matrix(3.51 -1.71 -0.09 3.49 90.13 221.02)"/><circle r="0.8" cx="0.15" cy="0.15" fill="#0a0a0a" transform="matrix(3.51 -1.71 -0.09 3.49 90.13 221.02)"/><circle r="1" fill="#2a2a2a" transform="matrix(5.04 -2.45 -0.13 5.01 101.67 215.26)"/><circle r="0.8" cx="0.15" cy="0.15" fill="#0a0a0a" transform="matrix(5.04 -2.45 -0.13 5.01 101.67 215.26)"/><circle r="0.55" cx="0.35" cy="0.3" fill="#f4f4f4" transform="matrix(5.04 -2.45 -0.13 5.01 101.67 215.26)"/><circle r="1" fill="#2a2a2a" transform="matrix(3.26 -1.59 -0.08 3.25 61.24 246.08)"/><circle r="0.8" cx="0.15" cy="0.15" fill="#0a0a0a" transform="matrix(3.26 -1.59 -0.08 3.25 61.24 246.08)"/><circle r="1" fill="#2a2a2a" transform="matrix(3.61 -1.76 -0.09 3.59 72.64 240.09)"/><circle r="0.8" cx="0.15" cy="0.15" fill="#0a0a0a" transform="matrix(3.61 -1.76 -0.09 3.59 72.64 240.09)"/><circle r="1" fill="#2a2a2a" transform="matrix(3.1 -1.51 -0.08 3.08 84.03 234.1)"/><circle r="0.8" cx="0.15" cy="0.15" fill="#0a0a0a" transform="matrix(3.1 -1.51 -0.08 3.08 84.03 234.1)"/><circle r="0.55" cx="0.35" cy="0.3" fill="#f4f4f4" transform="matrix(3.1 -1.51 -0.08 3.08 84.03 234.1)"/><circle r="1" fill="#2a2a2a" transform="matrix(3.69 -1.79 -0.09 3.67 95.42 228.11)"/><circle r="0.8" cx="0.15" cy="0.15" fill="#0a0a0a" transform="matrix(3.69 -1.79 -0.09 3.67 95.42 228.11)"/><circle r="0.55" cx="0.35" cy="0.3" fill="#f4f4f4" transform="matrix(3.69 -1.79 -0.09 3.67 95.42 228.11)"/>
<circle cx="41.5" cy="182.2" r="2.6" fill="#e01b1b"/><circle cx="40.59" cy="181.29" r="0.91" fill="#fff" opacity="0.45"/><circle cx="46.05" cy="182.2" r="2.6" fill="#e01b1b"/><circle cx="45.14" cy="181.29" r="0.91" fill="#fff" opacity="0.45"/>
<circle cx="8.6" cy="213.5" r="2.6" fill="#e01b1b"/><circle cx="7.69" cy="212.59" r="0.91" fill="#fff" opacity="0.45"/><circle cx="13.15" cy="213.5" r="2.6" fill="#e01b1b"/><circle cx="12.24" cy="212.59" r="0.91" fill="#fff" opacity="0.45"/>
<circle cx="53.5" cy="226.5" r="2.6" fill="#e01b1b"/><circle cx="52.59" cy="225.59" r="0.91" fill="#fff" opacity="0.45"/><circle cx="58.05" cy="226.5" r="2.6" fill="#e01b1b"/><circle cx="57.14" cy="225.59" r="0.91" fill="#fff" opacity="0.45"/>
<line x1="33" y1="200.5" x2="41.5" y2="205.5" stroke="#5cc8d0" stroke-width="1.2"/><circle cx="33" cy="200.5" r="1.4" fill="#5cc8d0"/><circle cx="41.5" cy="205.5" r="1.4" fill="#5cc8d0"/>
<line x1="77.5" y1="185.5" x2="86.5" y2="182.5" stroke="#5cc8d0" stroke-width="1.2"/><circle cx="77.5" cy="185.5" r="1.4" fill="#5cc8d0"/><circle cx="86.5" cy="182.5" r="1.4" fill="#5cc8d0"/>
<line x1="79.5" y1="224.5" x2="87" y2="218.2" stroke="#5cc8d0" stroke-width="1.2"/><circle cx="79.5" cy="224.5" r="1.4" fill="#5cc8d0"/><circle cx="87" cy="218.2" r="1.4" fill="#5cc8d0"/>
<line x1="33.5" y1="236.5" x2="36.5" y2="245.5" stroke="#5cc8d0" stroke-width="1.2"/><circle cx="33.5" cy="236.5" r="1.4" fill="#5cc8d0"/><circle cx="36.5" cy="245.5" r="1.4" fill="#5cc8d0"/>
<g stroke="#3d68b3" stroke-width="1.1" fill="none" stroke-dasharray="3 1.8"><circle cx="93.7" cy="190.9" r="4.3"/><line x1="97" y1="186.8" x2="158" y2="183.6"/><line x1="94.8" y1="195.5" x2="114.5" y2="239.5"/></g>
<path d="M187.04,209.93L189.77,213.26M217.62,211.83L221.02,208.19M141.38,228.75L149,228.51M196.73,212.94L200.63,209.32M146.25,211.3L151.31,207.7M185.79,234.06L193.74,233.7M198.73,199.1L202.3,195.49M205.42,236.57L209.31,239.8M239.49,217.31L242.56,213.64M124.23,239.64L132.35,239.39M229.28,228.33L232.85,224.66M193.74,233.7L197.3,236.97M162.66,203.91L169.13,203.71M179.82,199.89L182.06,203.25M159.85,210.91L166.64,210.69M153.2,197.26L154.62,200.68M181.06,237.7L184.46,240.99M142.01,201.02L143.26,204.46M175.85,213.82L180.24,210.21M192.74,240.62L197.3,236.97M207.93,202.07L210.99,205.34M227.33,200.9L230.89,204.1M240.47,224.15L243.71,220.47M227.82,207.75L230.89,204.1M261.37,215.7L266.08,218.81M261.8,205.22L268.6,204.66M281.23,228.07L289.18,227.44M189.77,213.26L196.73,212.94M198.73,199.1L201.46,202.4M292.14,234.19L294.72,230.49M172.94,238.02L181.06,237.7M151.98,221.51L154.22,224.9M188.53,202.99L191.1,206.32M199.8,216.23L206.92,215.87M134.07,215.11L135.65,218.53M210.66,212.23L217.62,211.83M187.11,227.12L194.74,226.78M283.25,213.92L285.33,210.24M280.28,207.17L282.19,203.49M241.46,230.99L244.86,227.31M220.7,194.44L226.84,194.04M207.43,208.97L210.99,205.34M197.73,206.02L200.63,209.32M234.16,238.36L242.44,237.83M181.06,237.7L185.79,234.06M168.88,214.06L175.85,213.82M122.16,236.24L124.23,239.64M271.07,211.44L273.32,207.76M244.86,227.31L252.65,226.76M139.46,211.49L146.25,211.3M173.52,200.11L179.82,199.89M252.65,226.76L257.37,229.88M229.77,235.19L234.16,238.36M207.93,202.07L211.33,198.44M227.33,200.9L230.24,197.25M132.35,239.39L138.07,235.76M217.6,232.47L221.65,235.68M194.74,226.78L198.96,223.14M228.31,214.61L231.54,210.95M268.6,204.66L270.68,200.99M242.44,237.83L246.01,234.14M270.37,232.39L278.48,231.77M245.25,192.67L249.14,195.82M126.13,229.19L128.04,232.6M188.53,202.99L192.43,199.39M142.78,218.33L148,214.72M257.52,191.64L263.66,191.11M164.16,217.67L168.88,214.06M183.89,196.3L190.02,196.05M289.18,227.44L291.59,223.74M251.17,219.94L254.08,216.26M161.68,224.65L164.25,228.01M169.88,234.7L172.94,238.02M286.21,220.68L288.46,216.99M259.39,208.9L263.94,212.02M277.31,200.41L279.06,196.74M148.59,238.89L156.71,238.62M283.25,213.92L288.46,216.99M273.32,207.76L280.28,207.17M283.86,234.84L292.14,234.19M266.13,197.88L270.68,200.99M154.96,214.51L157.03,217.9M280.28,207.17L285.33,210.24M139.3,225.35L141.38,228.75M237.52,203.64L240.26,199.98M221.65,235.68L229.77,235.19M148,214.72L154.96,214.51M195.73,219.86L198.96,223.14M217.63,198.07L220.7,194.44M149,228.51L154.22,224.9M166.64,210.69L171.2,207.09M217.61,218.71L221.18,215.06M248.21,206.3L252.43,209.45M263.34,222.5L266.08,218.81M209.98,226.01L217.61,225.59M173.86,220.78L176.59,224.12M220.86,201.31L227.33,200.9M134.07,215.11L139.46,211.49M138.07,235.76L146.02,235.52M221.18,215.06L228.31,214.61M232.2,217.81L239.49,217.31M206.92,215.87L210.66,212.23M263.34,222.5L268.22,225.6M159.61,241.96L167.89,241.66M206.42,222.77L209.98,226.01M171.61,196.73L173.52,200.11M278.48,231.77L281.23,228.07M179.82,199.89L183.89,196.3M182.56,230.76L185.79,234.06M231.54,210.95L238.51,210.48M242.56,213.64L249.69,213.12M193.74,233.7L198.13,230.06M226.84,194.04L230.24,197.25M228.8,221.47L232.2,217.81M184.05,223.82L187.11,227.12M164.25,228.01L171.87,227.74M230.24,197.25L236.54,196.8M217.61,225.59L221.5,228.8M238.51,210.48L241.41,206.81M197.73,206.02L201.46,202.4M254.13,233.58L259.01,236.69M198.13,230.06L205.92,229.67M266.13,197.88L268.05,194.22M276.01,224.99L278.59,221.3M143.26,204.46L149.73,204.28M135.83,232.37L138.07,235.76M190.02,196.05L192.43,199.39M182.06,203.25L188.53,202.99M187.04,209.93L191.1,206.32M195.73,219.86L199.8,216.23M131.84,225.56L139.3,225.35M246.01,234.14L254.13,233.58M180.24,210.21L187.04,209.93M263.94,212.02L271.07,211.44M271.07,211.44L275.95,214.53M173.86,220.78L178.42,217.16M171.87,227.74L174.77,231.07M267.29,236.09L270.37,232.39M217.61,218.71L221.34,221.93M210.99,205.34L217.63,204.95M209.65,232.91L217.6,232.47M228.31,214.61L232.2,217.81M202.3,195.49L208.43,195.17M246.73,199.49L250.79,202.64M171.87,227.74L176.59,224.12M259.39,208.9L261.8,205.22M275.95,214.53L283.25,213.92M164.16,217.67L166.56,221.04M151.4,231.89L159.19,231.64M236.54,196.8L239.11,193.15M122.16,236.24L128.04,232.6M161.68,224.65L166.56,221.04M230.89,204.1L237.52,203.64M268.05,194.22L274.35,193.65M138.04,208.06L139.46,211.49M205.42,236.57L209.65,232.91M265.32,229.29L268.22,225.6M154.96,214.51L159.85,210.91M138.04,208.06L143.26,204.46M146.25,211.3L148,214.72M161.93,234.99L169.88,234.7M274.35,193.65L279.06,196.74M286.21,220.68L291.59,223.74M165.48,196.92L171.61,196.73M249.69,213.12L254.08,216.26M243.71,220.47L251.17,219.94M278.48,231.77L283.86,234.84M229.28,228.33L233.51,231.51M154.22,224.9L161.68,224.65M259.01,236.69L267.29,236.09M238.51,210.48L242.56,213.64M255.44,195.3L259.66,198.43M241.41,206.81L248.21,206.3M135.65,218.53L142.78,218.33M236.54,196.8L240.26,199.98M143.04,242.52L148.59,238.89M241.46,230.99L246.01,234.14M240.47,224.15L244.86,227.31M273.54,218.21L278.59,221.3M166.56,221.04L173.86,220.78M185.54,216.88L189.77,213.26M135.83,232.37L141.38,228.75M178.42,217.16L185.54,216.88M246.73,199.49L249.14,195.82M160.92,200.51L162.66,203.91M252.65,226.76L255.72,223.07M134.76,242.78L143.04,242.52M263.66,191.11L268.05,194.22M149,228.51L151.4,231.89M273.54,218.21L275.95,214.53M221.34,221.93L228.8,221.47M249.14,195.82L255.44,195.3M128.04,232.6L135.83,232.37M132.35,239.39L134.76,242.78M184.46,240.99L192.74,240.62M200.63,209.32L207.43,208.97M240.26,199.98L246.73,199.49M142.01,201.02L147.07,197.42M217.63,204.95L221.02,208.19M217.61,225.59L221.34,221.93M217.63,204.95L220.86,201.31M130.1,222.15L135.65,218.53M259.66,198.43L266.13,197.88M149.73,204.28L151.31,207.7M289.18,227.44L294.72,230.49M188.44,220.19L195.73,219.86M159.19,231.64L161.93,234.99M157.03,217.9L164.16,217.67M217.6,232.47L221.5,228.8M221.5,228.8L229.28,228.33M266.08,218.81L273.54,218.21M217.59,239.35L221.65,235.68M194.74,226.78L198.13,230.06M177.83,206.85L180.24,210.21M217.62,211.83L221.18,215.06M239.11,193.15L245.25,192.67M177.83,206.85L182.06,203.25M196.73,212.94L199.8,216.23M249.69,213.12L252.43,209.45M268.6,204.66L273.32,207.76M171.2,207.09L177.83,206.85M232.85,224.66L240.47,224.15M154.62,200.68L160.92,200.51M209.31,239.8L217.59,239.35M142.78,218.33L144.69,221.73M169.13,203.71L171.2,207.09M192.43,199.39L198.73,199.1M169.88,234.7L174.77,231.07M205.92,229.67L209.65,232.91M147.07,197.42L153.2,197.26M227.82,207.75L231.54,210.95M265.32,229.29L270.37,232.39M248.21,206.3L250.79,202.64M198.96,223.14L206.42,222.77M229.77,235.19L233.51,231.51M250.79,202.64L257.42,202.1M175.85,213.82L178.42,217.16M278.59,221.3L286.21,220.68M174.77,231.07L182.56,230.76M277.31,200.41L282.19,203.49M208.43,195.17L211.33,198.44M176.59,224.12L184.05,223.82M149.73,204.28L154.62,200.68M156.71,238.62L159.61,241.96M130.1,222.15L131.84,225.56M146.02,235.52L148.59,238.89M254.08,216.26L261.37,215.7M182.56,230.76L187.11,227.12M139.3,225.35L144.69,221.73M268.22,225.6L276.01,224.99M167.89,241.66L172.94,238.02M184.05,223.82L188.44,220.19M197.3,236.97L205.42,236.57M156.71,238.62L161.93,234.99M237.52,203.64L241.41,206.81M166.64,210.69L168.88,214.06M211.33,198.44L217.63,198.07M233.51,231.51L241.46,230.99M169.13,203.71L173.52,200.11M255.72,223.07L263.34,222.5M159.19,231.64L164.25,228.01M206.92,215.87L210.32,219.12M257.42,202.1L261.8,205.22M239.49,217.31L243.71,220.47M185.54,216.88L188.44,220.19M257.42,202.1L259.66,198.43M206.42,222.77L210.32,219.12M261.37,215.7L263.94,212.02M270.68,200.99L277.31,200.41M151.31,207.7L157.94,207.51M201.46,202.4L207.93,202.07M126.13,229.19L131.84,225.56M144.69,221.73L151.98,221.51M254.13,233.58L257.37,229.88M191.1,206.32L197.73,206.02M255.44,195.3L257.52,191.64M252.43,209.45L259.39,208.9M146.02,235.52L151.4,231.89M207.43,208.97L210.66,212.23M157.94,207.51L159.85,210.91M228.8,221.47L232.85,224.66M151.98,221.51L157.03,217.9M157.94,207.51L162.66,203.91M210.32,219.12L217.61,218.71M276.01,224.99L281.23,228.07M251.17,219.94L255.72,223.07M257.37,229.88L265.32,229.29M205.92,229.67L209.98,226.01M217.63,198.07L220.86,201.31M221.02,208.19L227.82,207.75M160.92,200.51L165.48,196.92" stroke="#222" stroke-width="0.9" fill="none"/>
<g fill="#111"><circle cx="154.62" cy="200.68" r="1.6"/><circle cx="149.73" cy="204.28" r="1.6"/><circle cx="143.26" cy="204.46" r="1.6"/><circle cx="142.01" cy="201.02" r="1.6"/><circle cx="147.07" cy="197.42" r="1.6"/><circle cx="153.2" cy="197.26" r="1.6"/><circle cx="151.31" cy="207.7" r="1.6"/><circle cx="146.25" cy="211.3" r="1.6"/><circle cx="139.46" cy="211.49" r="1.6"/><circle cx="138.04" cy="208.06" r="1.6"/><circle cx="148" cy="214.72" r="1.6"/><circle cx="142.78" cy="218.33" r="1.6"/><circle cx="135.65" cy="218.53" r="1.6"/><circle cx="134.07" cy="215.11" r="1.6"/><circle cx="144.69" cy="221.73" r="1.6"/><circle cx="139.3" cy="225.35" r="1.6"/><circle cx="131.84" cy="225.56" r="1.6"/><circle cx="130.1" cy="222.15" r="1.6"/><circle cx="141.38" cy="228.75" r="1.6"/><circle cx="135.83" cy="232.37" r="1.6"/><circle cx="128.04" cy="232.6" r="1.6"/><circle cx="126.13" cy="229.19" r="1.6"/><circle cx="138.07" cy="235.76" r="1.6"/><circle cx="132.35" cy="239.39" r="1.6"/><circle cx="124.23" cy="239.64" r="1.6"/><circle cx="122.16" cy="236.24" r="1.6"/><circle cx="162.66" cy="203.91" r="1.6"/><circle cx="157.94" cy="207.51" r="1.6"/><circle cx="160.92" cy="200.51" r="1.6"/><circle cx="159.85" cy="210.91" r="1.6"/><circle cx="154.96" cy="214.51" r="1.6"/><circle cx="157.03" cy="217.9" r="1.6"/><circle cx="151.98" cy="221.51" r="1.6"/><circle cx="154.22" cy="224.9" r="1.6"/><circle cx="149" cy="228.51" r="1.6"/><circle cx="151.4" cy="231.89" r="1.6"/><circle cx="146.02" cy="235.52" r="1.6"/><circle cx="148.59" cy="238.89" r="1.6"/><circle cx="143.04" cy="242.52" r="1.6"/><circle cx="134.76" cy="242.78" r="1.6"/><circle cx="173.52" cy="200.11" r="1.6"/><circle cx="169.13" cy="203.71" r="1.6"/><circle cx="165.48" cy="196.92" r="1.6"/><circle cx="171.61" cy="196.73" r="1.6"/><circle cx="171.2" cy="207.09" r="1.6"/><circle cx="166.64" cy="210.69" r="1.6"/><circle cx="168.88" cy="214.06" r="1.6"/><circle cx="164.16" cy="217.67" r="1.6"/><circle cx="166.56" cy="221.04" r="1.6"/><circle cx="161.68" cy="224.65" r="1.6"/><circle cx="164.25" cy="228.01" r="1.6"/><circle cx="159.19" cy="231.64" r="1.6"/><circle cx="161.93" cy="234.99" r="1.6"/><circle cx="156.71" cy="238.62" r="1.6"/><circle cx="182.06" cy="203.25" r="1.6"/><circle cx="177.83" cy="206.85" r="1.6"/><circle cx="179.82" cy="199.89" r="1.6"/><circle cx="180.24" cy="210.21" r="1.6"/><circle cx="175.85" cy="213.82" r="1.6"/><circle cx="178.42" cy="217.16" r="1.6"/><circle cx="173.86" cy="220.78" r="1.6"/><circle cx="176.59" cy="224.12" r="1.6"/><circle cx="171.87" cy="227.74" r="1.6"/><circle cx="174.77" cy="231.07" r="1.6"/><circle cx="169.88" cy="234.7" r="1.6"/><circle cx="172.94" cy="238.02" r="1.6"/><circle cx="167.89" cy="241.66" r="1.6"/><circle cx="159.61" cy="241.96" r="1.6"/><circle cx="192.43" cy="199.39" r="1.6"/><circle cx="188.53" cy="202.99" r="1.6"/><circle cx="183.89" cy="196.3" r="1.6"/><circle cx="190.02" cy="196.05" r="1.6"/><circle cx="191.1" cy="206.32" r="1.6"/><circle cx="187.04" cy="209.93" r="1.6"/><circle cx="189.77" cy="213.26" r="1.6"/><circle cx="185.54" cy="216.88" r="1.6"/><circle cx="188.44" cy="220.19" r="1.6"/><circle cx="184.05" cy="223.82" r="1.6"/><circle cx="187.11" cy="227.12" r="1.6"/><circle cx="182.56" cy="230.76" r="1.6"/><circle cx="185.79" cy="234.06" r="1.6"/><circle cx="181.06" cy="237.7" r="1.6"/><circle cx="201.46" cy="202.4" r="1.6"/><circle cx="197.73" cy="206.02" r="1.6"/><circle cx="198.73" cy="199.1" r="1.6"/><circle cx="200.63" cy="209.32" r="1.6"/><circle cx="196.73" cy="212.94" r="1.6"/><circle cx="199.8" cy="216.23" r="1.6"/><circle cx="195.73" cy="219.86" r="1.6"/><circle cx="198.96" cy="223.14" r="1.6"/><circle cx="194.74" cy="226.78" r="1.6"/><circle cx="198.13" cy="230.06" r="1.6"/><circle cx="193.74" cy="233.7" r="1.6"/><circle cx="197.3" cy="236.97" r="1.6"/><circle cx="192.74" cy="240.62" r="1.6"/><circle cx="184.46" cy="240.99" r="1.6"/><circle cx="211.33" cy="198.44" r="1.6"/><circle cx="207.93" cy="202.07" r="1.6"/><circle cx="202.3" cy="195.49" r="1.6"/><circle cx="208.43" cy="195.17" r="1.6"/><circle cx="210.99" cy="205.34" r="1.6"/><circle cx="207.43" cy="208.97" r="1.6"/><circle cx="210.66" cy="212.23" r="1.6"/><circle cx="206.92" cy="215.87" r="1.6"/><circle cx="210.32" cy="219.12" r="1.6"/><circle cx="206.42" cy="222.77" r="1.6"/><circle cx="209.98" cy="226.01" r="1.6"/><circle cx="205.92" cy="229.67" r="1.6"/><circle cx="209.65" cy="232.91" r="1.6"/><circle cx="205.42" cy="236.57" r="1.6"/><circle cx="220.86" cy="201.31" r="1.6"/><circle cx="217.63" cy="204.95" r="1.6"/><circle cx="217.63" cy="198.07" r="1.6"/><circle cx="221.02" cy="208.19" r="1.6"/><circle cx="217.62" cy="211.83" r="1.6"/><circle cx="221.18" cy="215.06" r="1.6"/><circle cx="217.61" cy="218.71" r="1.6"/><circle cx="221.34" cy="221.93" r="1.6"/><circle cx="217.61" cy="225.59" r="1.6"/><circle cx="221.5" cy="228.8" r="1.6"/><circle cx="217.6" cy="232.47" r="1.6"/><circle cx="221.65" cy="235.68" r="1.6"/><circle cx="217.59" cy="239.35" r="1.6"/><circle cx="209.31" cy="239.8" r="1.6"/><circle cx="230.24" cy="197.25" r="1.6"/><circle cx="227.33" cy="200.9" r="1.6"/><circle cx="220.7" cy="194.44" r="1.6"/><circle cx="226.84" cy="194.04" r="1.6"/><circle cx="230.89" cy="204.1" r="1.6"/><circle cx="227.82" cy="207.75" r="1.6"/><circle cx="231.54" cy="210.95" r="1.6"/><circle cx="228.31" cy="214.61" r="1.6"/><circle cx="232.2" cy="217.81" r="1.6"/><circle cx="228.8" cy="221.47" r="1.6"/><circle cx="232.85" cy="224.66" r="1.6"/><circle cx="229.28" cy="228.33" r="1.6"/><circle cx="233.51" cy="231.51" r="1.6"/><circle cx="229.77" cy="235.19" r="1.6"/><circle cx="240.26" cy="199.98" r="1.6"/><circle cx="237.52" cy="203.64" r="1.6"/><circle cx="236.54" cy="196.8" r="1.6"/><circle cx="241.41" cy="206.81" r="1.6"/><circle cx="238.51" cy="210.48" r="1.6"/><circle cx="242.56" cy="213.64" r="1.6"/><circle cx="239.49" cy="217.31" r="1.6"/><circle cx="243.71" cy="220.47" r="1.6"/><circle cx="240.47" cy="224.15" r="1.6"/><circle cx="244.86" cy="227.31" r="1.6"/><circle cx="241.46" cy="230.99" r="1.6"/><circle cx="246.01" cy="234.14" r="1.6"/><circle cx="242.44" cy="237.83" r="1.6"/><circle cx="234.16" cy="238.36" r="1.6"/><circle cx="249.14" cy="195.82" r="1.6"/><circle cx="246.73" cy="199.49" r="1.6"/><circle cx="239.11" cy="193.15" r="1.6"/><circle cx="245.25" cy="192.67" r="1.6"/><circle cx="250.79" cy="202.64" r="1.6"/><circle cx="248.21" cy="206.3" r="1.6"/><circle cx="252.43" cy="209.45" r="1.6"/><circle cx="249.69" cy="213.12" r="1.6"/><circle cx="254.08" cy="216.26" r="1.6"/><circle cx="251.17" cy="219.94" r="1.6"/><circle cx="255.72" cy="223.07" r="1.6"/><circle cx="252.65" cy="226.76" r="1.6"/><circle cx="257.37" cy="229.88" r="1.6"/><circle cx="254.13" cy="233.58" r="1.6"/><circle cx="259.66" cy="198.43" r="1.6"/><circle cx="257.42" cy="202.1" r="1.6"/><circle cx="255.44" cy="195.3" r="1.6"/><circle cx="261.8" cy="205.22" r="1.6"/><circle cx="259.39" cy="208.9" r="1.6"/><circle cx="263.94" cy="212.02" r="1.6"/><circle cx="261.37" cy="215.7" r="1.6"/><circle cx="266.08" cy="218.81" r="1.6"/><circle cx="263.34" cy="222.5" r="1.6"/><circle cx="268.22" cy="225.6" r="1.6"/><circle cx="265.32" cy="229.29" r="1.6"/><circle cx="270.37" cy="232.39" r="1.6"/><circle cx="267.29" cy="236.09" r="1.6"/><circle cx="259.01" cy="236.69" r="1.6"/><circle cx="268.05" cy="194.22" r="1.6"/><circle cx="266.13" cy="197.88" r="1.6"/><circle cx="257.52" cy="191.64" r="1.6"/><circle cx="263.66" cy="191.11" r="1.6"/><circle cx="270.68" cy="200.99" r="1.6"/><circle cx="268.6" cy="204.66" r="1.6"/><circle cx="273.32" cy="207.76" r="1.6"/><circle cx="271.07" cy="211.44" r="1.6"/><circle cx="275.95" cy="214.53" r="1.6"/><circle cx="273.54" cy="218.21" r="1.6"/><circle cx="278.59" cy="221.3" r="1.6"/><circle cx="276.01" cy="224.99" r="1.6"/><circle cx="281.23" cy="228.07" r="1.6"/><circle cx="278.48" cy="231.77" r="1.6"/><circle cx="279.06" cy="196.74" r="1.6"/><circle cx="277.31" cy="200.41" r="1.6"/><circle cx="274.35" cy="193.65" r="1.6"/><circle cx="282.19" cy="203.49" r="1.6"/><circle cx="280.28" cy="207.17" r="1.6"/><circle cx="285.33" cy="210.24" r="1.6"/><circle cx="283.25" cy="213.92" r="1.6"/><circle cx="288.46" cy="216.99" r="1.6"/><circle cx="286.21" cy="220.68" r="1.6"/><circle cx="291.59" cy="223.74" r="1.6"/><circle cx="289.18" cy="227.44" r="1.6"/><circle cx="294.72" cy="230.49" r="1.6"/><circle cx="292.14" cy="234.19" r="1.6"/><circle cx="283.86" cy="234.84" r="1.6"/></g>
<line x1="161" y1="194" x2="158.5" y2="190.5" stroke="#777" stroke-width="0.6"/>
<circle cx="161" cy="194" r="1.5" fill="#e01b1b"/>
<circle cx="158.5" cy="190.5" r="1" fill="#5cc8d0"/>
<line x1="178" y1="191" x2="175.5" y2="187.5" stroke="#777" stroke-width="0.6"/>
<circle cx="178" cy="191" r="1.5" fill="#e01b1b"/>
<circle cx="175.5" cy="187.5" r="1" fill="#5cc8d0"/>
<line x1="196" y1="190" x2="198.5" y2="186.5" stroke="#777" stroke-width="0.6"/>
<circle cx="196" cy="190" r="1.5" fill="#e01b1b"/>
<circle cx="198.5" cy="186.5" r="1" fill="#5cc8d0"/>
<line x1="212" y1="190" x2="214.5" y2="186.5" stroke="#777" stroke-width="0.6"/>
<circle cx="212" cy="190" r="1.5" fill="#e01b1b"/>
<circle cx="214.5" cy="186.5" r="1" fill="#5cc8d0"/>
<line x1="236" y1="189" x2="233.5" y2="185.5" stroke="#777" stroke-width="0.6"/>
<circle cx="236" cy="189" r="1.5" fill="#e01b1b"/>
<circle cx="233.5" cy="185.5" r="1" fill="#5cc8d0"/>
<line x1="250" y1="187" x2="247.5" y2="183.5" stroke="#777" stroke-width="0.6"/>
<circle cx="250" cy="187" r="1.5" fill="#e01b1b"/>
<circle cx="247.5" cy="183.5" r="1" fill="#5cc8d0"/>
<line x1="263" y1="185" x2="265.5" y2="181.5" stroke="#777" stroke-width="0.6"/>
<circle cx="263" cy="185" r="1.5" fill="#e01b1b"/>
<circle cx="265.5" cy="181.5" r="1" fill="#5cc8d0"/>
<line x1="139" y1="204" x2="141.5" y2="200.5" stroke="#777" stroke-width="0.6"/>
<circle cx="139" cy="204" r="1.5" fill="#e01b1b"/>
<circle cx="141.5" cy="200.5" r="1" fill="#5cc8d0"/>
<line x1="160" y1="216" x2="157.5" y2="219.5" stroke="#777" stroke-width="0.6"/>
<circle cx="160" cy="216" r="1.5" fill="#e01b1b"/>
<circle cx="157.5" cy="219.5" r="1" fill="#5cc8d0"/>
<line x1="187" y1="209" x2="184.5" y2="205.5" stroke="#777" stroke-width="0.6"/>
<circle cx="187" cy="209" r="1.5" fill="#e01b1b"/>
<circle cx="184.5" cy="205.5" r="1" fill="#5cc8d0"/>
<line x1="205" y1="205" x2="207.5" y2="201.5" stroke="#777" stroke-width="0.6"/>
<circle cx="205" cy="205" r="1.5" fill="#e01b1b"/>
<circle cx="207.5" cy="201.5" r="1" fill="#5cc8d0"/>
<line x1="246" y1="210" x2="248.5" y2="206.5" stroke="#777" stroke-width="0.6"/>
<circle cx="246" cy="210" r="1.5" fill="#e01b1b"/>
<circle cx="248.5" cy="206.5" r="1" fill="#5cc8d0"/>
<line x1="178" y1="238" x2="180.5" y2="241.5" stroke="#777" stroke-width="0.6"/>
<circle cx="178" cy="238" r="1.5" fill="#e01b1b"/>
<circle cx="180.5" cy="241.5" r="1" fill="#5cc8d0"/>
<line x1="200" y1="236" x2="197.5" y2="239.5" stroke="#777" stroke-width="0.6"/>
<circle cx="200" cy="236" r="1.5" fill="#e01b1b"/>
<circle cx="197.5" cy="239.5" r="1" fill="#5cc8d0"/>
<line x1="236" y1="232" x2="233.5" y2="235.5" stroke="#777" stroke-width="0.6"/>
<circle cx="236" cy="232" r="1.5" fill="#e01b1b"/>
<circle cx="233.5" cy="235.5" r="1" fill="#5cc8d0"/>
<line x1="258" y1="227" x2="255.5" y2="230.5" stroke="#777" stroke-width="0.6"/>
<circle cx="258" cy="227" r="1.5" fill="#e01b1b"/>
<circle cx="255.5" cy="230.5" r="1" fill="#5cc8d0"/>
<line x1="270" y1="236" x2="272.5" y2="239.5" stroke="#777" stroke-width="0.6"/>
<circle cx="270" cy="236" r="1.5" fill="#e01b1b"/>
<circle cx="272.5" cy="239.5" r="1" fill="#5cc8d0"/>
<line x1="124" y1="242" x2="121.5" y2="245.5" stroke="#777" stroke-width="0.6"/>
<circle cx="124" cy="242" r="1.5" fill="#e01b1b"/>
<circle cx="121.5" cy="245.5" r="1" fill="#5cc8d0"/>
<line x1="140" y1="236" x2="137.5" y2="239.5" stroke="#777" stroke-width="0.6"/>
<circle cx="140" cy="236" r="1.5" fill="#e01b1b"/>
<circle cx="137.5" cy="239.5" r="1" fill="#5cc8d0"/>
<line x1="283" y1="200" x2="280.5" y2="196.5" stroke="#777" stroke-width="0.6"/>
<circle cx="283" cy="200" r="1.5" fill="#e01b1b"/>
<circle cx="280.5" cy="196.5" r="1" fill="#5cc8d0"/>
<g stroke="#666" stroke-width="0.8"><line x1="279" y1="191" x2="279" y2="186.5"/><line x1="279" y1="191" x2="284" y2="192.5"/><line x1="284" y1="192.5" x2="288" y2="189.5" stroke="#5cc8d0"/></g><circle cx="279" cy="191" r="1.5" fill="#222"/><circle cx="279" cy="186.5" r="1.6" fill="#e01b1b"/><circle cx="284" cy="192.5" r="1.6" fill="#e01b1b"/><circle cx="288" cy="189.5" r="1.1" fill="#5cc8d0"/>
<g stroke="#666" stroke-width="0.8"><line x1="292.4" y1="210" x2="292" y2="215.8"/><line x1="292.4" y1="210" x2="297.5" y2="207"/><line x1="297.5" y1="207" x2="302" y2="209.5" stroke="#5cc8d0"/></g><circle cx="292.4" cy="210" r="1.5" fill="#222"/><circle cx="292" cy="215.8" r="1.6" fill="#e01b1b"/><circle cx="297.5" cy="207" r="1.6" fill="#e01b1b"/><circle cx="302" cy="209.5" r="1.1" fill="#5cc8d0"/>
<g stroke="#666" stroke-width="0.8"><line x1="301.1" y1="226" x2="301.5" y2="221.5"/><line x1="301.1" y1="226" x2="307" y2="228.5"/><line x1="307" y1="228.5" x2="312" y2="226" stroke="#5cc8d0"/></g><circle cx="301.1" cy="226" r="1.5" fill="#222"/><circle cx="301.5" cy="221.5" r="1.6" fill="#e01b1b"/><circle cx="307" cy="228.5" r="1.6" fill="#e01b1b"/><circle cx="312" cy="226" r="1.1" fill="#5cc8d0"/>
<g stroke="#666" stroke-width="0.8"><line x1="275" y1="238.6" x2="276" y2="233.2"/><line x1="275" y1="238.6" x2="276" y2="244.5"/><line x1="276" y1="244.5" x2="279" y2="246" stroke="#5cc8d0"/></g><circle cx="275" cy="238.6" r="1.5" fill="#222"/><circle cx="276" cy="233.2" r="1.6" fill="#e01b1b"/><circle cx="276" cy="244.5" r="1.6" fill="#e01b1b"/><circle cx="279" cy="246" r="1.1" fill="#5cc8d0"/>
<g stroke="#666" stroke-width="0.8"><line x1="134" y1="209" x2="128.5" y2="207"/><line x1="134" y1="209" x2="134" y2="214.5"/><line x1="134" y1="214.5" x2="128" y2="217" stroke="#5cc8d0"/></g><circle cx="134" cy="209" r="1.5" fill="#222"/><circle cx="128.5" cy="207" r="1.6" fill="#e01b1b"/><circle cx="134" cy="214.5" r="1.6" fill="#e01b1b"/><circle cx="128" cy="217" r="1.1" fill="#5cc8d0"/>
<circle cx="223.6" cy="177.7" r="2.8" fill="#e01b1b"/><circle cx="222.62" cy="176.72" r="0.98" fill="#fff" opacity="0.45"/>
<circle cx="216.3" cy="188.3" r="2" fill="#e8e04a"/><circle cx="215.6" cy="187.6" r="0.7" fill="#fff" opacity="0.45"/>
<circle cx="238.3" cy="199.6" r="2.6" fill="#e01b1b"/><circle cx="237.39" cy="198.69" r="0.91" fill="#fff" opacity="0.45"/>
<polyline points="255.3,177.7 263.2,173.6 271.1,177.7" fill="none" stroke="#5cc8d0" stroke-width="1.4"/>
<circle cx="255.3" cy="177.7" r="1.5" fill="#5cc8d0"/><circle cx="271.1" cy="177.7" r="1.5" fill="#5cc8d0"/><circle cx="263.2" cy="173.6" r="2.6" fill="#e01b1b"/><circle cx="262.29" cy="172.69" r="0.91" fill="#fff" opacity="0.45"/>
<line x1="261" y1="201.9" x2="266.6" y2="195" stroke="#5cc8d0" stroke-width="1.2"/><circle cx="261" cy="201.9" r="1.6" fill="#5cc8d0"/><circle cx="266.6" cy="195" r="1.6" fill="#5cc8d0"/>
<g fill="none" stroke="#3f74c0" stroke-width="2.2"><path d="M224.5,182 C218,190 224,198 234,199"/><path d="M243,199 C252,201 258,195 259,183"/></g>
<polygon points="236.5,199 231.5,196 232,202" fill="#3f74c0"/>
<polygon points="259,180 256,185 262,185" fill="#3f74c0"/>
<text x="284.7" y="252.8" font-size="8.8" fill="#111" font-weight="bold" text-anchor="start" font-family="Liberation Sans" >GO</text>
<text x="30.5" y="271.4" font-size="8.8" fill="#111" font-weight="bold" text-anchor="start" font-family="Liberation Sans" >GO-PU foam</text>
<circle cx="113.4" cy="267.9" r="2.75" fill="#e01b1b"/><circle cx="112.44" cy="266.94" r="0.96" fill="#fff" opacity="0.45"/><circle cx="119.2" cy="267.9" r="2.75" fill="#e01b1b"/><circle cx="118.24" cy="266.94" r="0.96" fill="#fff" opacity="0.45"/>
<text x="127" y="271.4" font-size="8.8" font-weight="bold" font-family="Liberation Sans" fill="#111">O<tspan font-size="5.5" dy="2">2</tspan></text>
<circle cx="157.9" cy="267.8" r="2" fill="#e6df3c"/><circle cx="157.2" cy="267.1" r="0.7" fill="#fff" opacity="0.45"/>
<text x="163" y="271.4" font-size="8.8" font-weight="bold" font-family="Liberation Sans" fill="#111">e<tspan font-size="5.5" dy="-3">-</tspan></text>
<circle cx="190.8" cy="267.7" r="2.8" fill="#e01b1b"/><circle cx="189.82" cy="266.72" r="0.98" fill="#fff" opacity="0.45"/>
<text x="196.7" y="271.4" font-size="8.8" font-weight="bold" font-family="Liberation Sans" fill="#111">O<tspan font-size="5.5" dy="2">ads</tspan></text>
<line x1="233.5" y1="263.5" x2="233.5" y2="273" stroke="#5cc8d0" stroke-width="2"/><circle cx="233.5" cy="263.3" r="1.9" fill="#5cc8d0"/><circle cx="233.5" cy="273.2" r="1.9" fill="#5cc8d0"/>
<text x="239.6" y="271.4" font-size="8.8" font-weight="bold" font-family="Liberation Sans" fill="#111">H<tspan font-size="5.5" dy="2">2</tspan></text>
<polyline points="267.4,270.5 276.9,265.8 286.7,270.5" fill="none" stroke="#5cc8d0" stroke-width="1.5"/>
<circle cx="267.4" cy="270.5" r="1.5" fill="#5cc8d0"/><circle cx="286.7" cy="270.5" r="1.5" fill="#5cc8d0"/><circle cx="276.9" cy="265.6" r="2.7" fill="#e01b1b"/><circle cx="275.95" cy="264.66" r="0.94" fill="#fff" opacity="0.45"/>
<text x="289.3" y="271.4" font-size="8.8" font-weight="bold" font-family="Liberation Sans" fill="#111">H<tspan font-size="5.5" dy="2">2</tspan><tspan dy="-2">O</tspan></text>
<text x="321.2" y="163.1" font-size="14" fill="#000" font-weight="bold" text-anchor="start" font-family="Liberation Sans" >f</text>
<text x="506.3" y="160.5" font-size="14" fill="#000" font-weight="bold" text-anchor="start" font-family="Liberation Sans" >g</text>
<rect x="352.9" y="154.8" width="142.3" height="115.7" fill="none" stroke="#333" stroke-width="0.9"/>
<g stroke="#333" stroke-width="0.8"><line x1="351.1" y1="270.5" x2="352.9" y2="270.5"/><line x1="351.8" y1="259.99" x2="352.9" y2="259.99"/><line x1="351.1" y1="249.48" x2="352.9" y2="249.48"/><line x1="351.8" y1="238.97" x2="352.9" y2="238.97"/><line x1="351.1" y1="228.46" x2="352.9" y2="228.46"/><line x1="351.8" y1="217.95" x2="352.9" y2="217.95"/><line x1="351.1" y1="207.44" x2="352.9" y2="207.44"/><line x1="351.8" y1="196.93" x2="352.9" y2="196.93"/><line x1="351.1" y1="186.42" x2="352.9" y2="186.42"/><line x1="351.8" y1="175.91" x2="352.9" y2="175.91"/><line x1="351.1" y1="165.4" x2="352.9" y2="165.4"/><line x1="367.5" y1="270.5" x2="367.5" y2="272.3"/><line x1="381.74" y1="270.5" x2="381.74" y2="271.6"/><line x1="395.98" y1="270.5" x2="395.98" y2="272.3"/><line x1="410.22" y1="270.5" x2="410.22" y2="271.6"/><line x1="424.46" y1="270.5" x2="424.46" y2="272.3"/><line x1="438.7" y1="270.5" x2="438.7" y2="271.6"/><line x1="452.94" y1="270.5" x2="452.94" y2="272.3"/><line x1="467.18" y1="270.5" x2="467.18" y2="271.6"/><line x1="481.42" y1="270.5" x2="481.42" y2="272.3"/><line x1="495.66" y1="270.5" x2="495.66" y2="271.6"/></g>
<text x="346.4" y="273.4" text-anchor="end" font-size="8.1" font-family="Liberation Sans" fill="#000" stroke="#000" stroke-width="0.25">0</text>
<text x="346.4" y="252.38" text-anchor="end" font-size="8.1" font-family="Liberation Sans" fill="#000" stroke="#000" stroke-width="0.25">2</text>
<text x="346.4" y="231.36" text-anchor="end" font-size="8.1" font-family="Liberation Sans" fill="#000" stroke="#000" stroke-width="0.25">4</text>
<text x="346.4" y="210.34" text-anchor="end" font-size="8.1" font-family="Liberation Sans" fill="#000" stroke="#000" stroke-width="0.25">6</text>
<text x="346.4" y="189.32" text-anchor="end" font-size="8.1" font-family="Liberation Sans" fill="#000" stroke="#000" stroke-width="0.25">8</text>
<text x="346.4" y="168.3" text-anchor="end" font-size="8.1" font-family="Liberation Sans" fill="#000" stroke="#000" stroke-width="0.25">10</text>
<text x="367.5" y="280.7" text-anchor="middle" font-size="8.1" font-family="Liberation Sans" fill="#000" stroke="#000" stroke-width="0.25">2</text>
<text x="395.98" y="280.7" text-anchor="middle" font-size="8.1" font-family="Liberation Sans" fill="#000" stroke="#000" stroke-width="0.25">4</text>
<text x="424.46" y="280.7" text-anchor="middle" font-size="8.1" font-family="Liberation Sans" fill="#000" stroke="#000" stroke-width="0.25">6</text>
<text x="452.94" y="280.7" text-anchor="middle" font-size="8.1" font-family="Liberation Sans" fill="#000" stroke="#000" stroke-width="0.25">8</text>
<text x="481.42" y="280.7" text-anchor="middle" font-size="8.1" font-family="Liberation Sans" fill="#000" stroke="#000" stroke-width="0.25">10</text>
<line x1="367.5" y1="256.13" x2="481.42" y2="178.61" stroke="#17898b" stroke-width="1.5"/>
<line x1="367.5" y1="252.63" x2="367.5" y2="258.94" stroke="#111" stroke-width="1.2"/><line x1="365.8" y1="252.63" x2="369.2" y2="252.63" stroke="#111" stroke-width="0.9"/><line x1="365.8" y1="258.94" x2="369.2" y2="258.94" stroke="#111" stroke-width="0.9"/>
<circle cx="367.5" cy="255.79" r="1.9" fill="#111"/>
<line x1="395.98" y1="226.36" x2="395.98" y2="243.17" stroke="#111" stroke-width="1.2"/><line x1="394.28" y1="226.36" x2="397.68" y2="226.36" stroke="#111" stroke-width="0.9"/><line x1="394.28" y1="243.17" x2="397.68" y2="243.17" stroke="#111" stroke-width="0.9"/>
<circle cx="395.98" cy="234.77" r="1.9" fill="#111"/>
<line x1="424.46" y1="209.02" x2="424.46" y2="223.73" stroke="#111" stroke-width="1.2"/><line x1="422.76" y1="209.02" x2="426.16" y2="209.02" stroke="#111" stroke-width="0.9"/><line x1="422.76" y1="223.73" x2="426.16" y2="223.73" stroke="#111" stroke-width="0.9"/>
<circle cx="424.46" cy="216.37" r="1.9" fill="#111"/>
<line x1="452.94" y1="186.42" x2="452.94" y2="211.64" stroke="#111" stroke-width="1.2"/><line x1="451.24" y1="186.42" x2="454.64" y2="186.42" stroke="#111" stroke-width="0.9"/><line x1="451.24" y1="211.64" x2="454.64" y2="211.64" stroke="#111" stroke-width="0.9"/>
<circle cx="452.94" cy="199.03" r="1.9" fill="#111"/>
<line x1="481.42" y1="164.35" x2="481.42" y2="194.83" stroke="#111" stroke-width="1.2"/><line x1="479.72" y1="164.35" x2="483.12" y2="164.35" stroke="#111" stroke-width="0.9"/><line x1="479.72" y1="194.83" x2="483.12" y2="194.83" stroke="#111" stroke-width="0.9"/>
<circle cx="481.42" cy="179.59" r="1.9" fill="#111"/>
<text x="424.5" y="290.9" text-anchor="middle" font-size="8.7" font-weight="bold" font-family="Liberation Sans" fill="#111">Concentration (v/v%)</text>
<text transform="translate(329.3,212.8) rotate(-90)" text-anchor="middle" font-size="8.4" font-weight="bold" font-family="Liberation Sans" fill="#111">ΔR/R<tspan font-size="5.5" dy="1.8">a</tspan><tspan dy="-1.8"> (%)</tspan></text>
<text x="369.5" y="174.2" font-size="8.2" font-weight="bold" font-family="Liberation Sans" fill="#111"><tspan font-style="italic">y</tspan><tspan dx="1"> = </tspan>0.922x-0.477</text>
<text x="369.5" y="188.5" font-size="8.2" font-weight="bold" font-family="Liberation Sans" fill="#111"><tspan font-style="italic">R</tspan><tspan font-size="5.4" dy="-3.3">2</tspan><tspan dy="3.3" dx="0.8"> = 0.999</tspan></text>
<rect x="538.2" y="154.8" width="141.9" height="114.6" fill="none" stroke="#333" stroke-width="0.9"/>
<line x1="538.2" y1="154.8" x2="538.2" y2="269.4" stroke="#888" stroke-width="1.3"/>
<g stroke="#333" stroke-width="0.8"><line x1="537.1" y1="269.38" x2="538.2" y2="269.38"/><line x1="536.4" y1="262.6" x2="538.2" y2="262.6"/><line x1="537.1" y1="255.83" x2="538.2" y2="255.83"/><line x1="536.4" y1="249.05" x2="538.2" y2="249.05"/><line x1="537.1" y1="242.28" x2="538.2" y2="242.28"/><line x1="536.4" y1="235.5" x2="538.2" y2="235.5"/><line x1="537.1" y1="228.73" x2="538.2" y2="228.73"/><line x1="536.4" y1="221.95" x2="538.2" y2="221.95"/><line x1="537.1" y1="215.18" x2="538.2" y2="215.18"/><line x1="536.4" y1="208.4" x2="538.2" y2="208.4"/><line x1="537.1" y1="201.63" x2="538.2" y2="201.63"/><line x1="536.4" y1="194.85" x2="538.2" y2="194.85"/><line x1="537.1" y1="188.08" x2="538.2" y2="188.08"/><line x1="536.4" y1="181.3" x2="538.2" y2="181.3"/><line x1="537.1" y1="174.53" x2="538.2" y2="174.53"/><line x1="536.4" y1="167.75" x2="538.2" y2="167.75"/><line x1="537.1" y1="160.98" x2="538.2" y2="160.98"/><line x1="536.4" y1="154.2" x2="538.2" y2="154.2"/><line x1="538.2" y1="269.4" x2="538.2" y2="271.2"/><line x1="551.07" y1="269.4" x2="551.07" y2="270.5"/><line x1="563.93" y1="269.4" x2="563.93" y2="271.2"/><line x1="576.8" y1="269.4" x2="576.8" y2="270.5"/><line x1="589.66" y1="269.4" x2="589.66" y2="271.2"/><line x1="602.53" y1="269.4" x2="602.53" y2="270.5"/><line x1="615.39" y1="269.4" x2="615.39" y2="271.2"/><line x1="628.25" y1="269.4" x2="628.25" y2="270.5"/><line x1="641.12" y1="269.4" x2="641.12" y2="271.2"/><line x1="653.99" y1="269.4" x2="653.99" y2="270.5"/><line x1="666.85" y1="269.4" x2="666.85" y2="271.2"/><line x1="679.72" y1="269.4" x2="679.72" y2="270.5"/></g>
<text x="531.2" y="265.8" text-anchor="end" font-size="8.1" font-family="Liberation Sans" fill="#000" stroke="#000" stroke-width="0.25">0</text>
<text x="531.2" y="252.25" text-anchor="end" font-size="8.1" font-family="Liberation Sans" fill="#000" stroke="#000" stroke-width="0.25">20</text>
<text x="531.2" y="238.7" text-anchor="end" font-size="8.1" font-family="Liberation Sans" fill="#000" stroke="#000" stroke-width="0.25">40</text>
<text x="531.2" y="225.15" text-anchor="end" font-size="8.1" font-family="Liberation Sans" fill="#000" stroke="#000" stroke-width="0.25">60</text>
<text x="531.2" y="211.6" text-anchor="end" font-size="8.1" font-family="Liberation Sans" fill="#000" stroke="#000" stroke-width="0.25">80</text>
<text x="531.2" y="198.05" text-anchor="end" font-size="8.1" font-family="Liberation Sans" fill="#000" stroke="#000" stroke-width="0.25">100</text>
<text x="531.2" y="184.5" text-anchor="end" font-size="8.1" font-family="Liberation Sans" fill="#000" stroke="#000" stroke-width="0.25">120</text>
<text x="531.2" y="170.95" text-anchor="end" font-size="8.1" font-family="Liberation Sans" fill="#000" stroke="#000" stroke-width="0.25">140</text>
<text x="531.2" y="157.4" text-anchor="end" font-size="8.1" font-family="Liberation Sans" fill="#000" stroke="#000" stroke-width="0.25">160</text>
<text x="538.2" y="280.1" text-anchor="middle" font-size="8.1" font-family="Liberation Sans" fill="#000" stroke="#000" stroke-width="0.25">0</text>
<text x="563.93" y="280.1" text-anchor="middle" font-size="8.1" font-family="Liberation Sans" fill="#000" stroke="#000" stroke-width="0.25">20</text>
<text x="589.66" y="280.1" text-anchor="middle" font-size="8.1" font-family="Liberation Sans" fill="#000" stroke="#000" stroke-width="0.25">40</text>
<text x="615.39" y="280.1" text-anchor="middle" font-size="8.1" font-family="Liberation Sans" fill="#000" stroke="#000" stroke-width="0.25">60</text>
<text x="641.12" y="280.1" text-anchor="middle" font-size="8.1" font-family="Liberation Sans" fill="#000" stroke="#000" stroke-width="0.25">80</text>
<text x="666.85" y="280.1" text-anchor="middle" font-size="8.1" font-family="Liberation Sans" fill="#000" stroke="#000" stroke-width="0.25">100</text>
<line x1="551.07" y1="255.92" x2="666.85" y2="186.84" stroke="#17898b" stroke-width="1.5"/>
<line x1="551.07" y1="255.15" x2="551.07" y2="257.18" stroke="#111" stroke-width="1.2"/><line x1="549.37" y1="255.15" x2="552.77" y2="255.15" stroke="#111" stroke-width="0.9"/><line x1="549.37" y1="257.18" x2="552.77" y2="257.18" stroke="#111" stroke-width="0.9"/>
<circle cx="551.07" cy="256.16" r="1.9" fill="#111"/>
<line x1="563.93" y1="247.02" x2="563.93" y2="249.73" stroke="#111" stroke-width="1.2"/><line x1="562.23" y1="247.02" x2="565.63" y2="247.02" stroke="#111" stroke-width="0.9"/><line x1="562.23" y1="249.73" x2="565.63" y2="249.73" stroke="#111" stroke-width="0.9"/>
<circle cx="563.93" cy="248.37" r="1.9" fill="#111"/>
<line x1="576.8" y1="240.24" x2="576.8" y2="244.31" stroke="#111" stroke-width="1.2"/><line x1="575.1" y1="240.24" x2="578.5" y2="240.24" stroke="#111" stroke-width="0.9"/><line x1="575.1" y1="244.31" x2="578.5" y2="244.31" stroke="#111" stroke-width="0.9"/>
<circle cx="576.8" cy="242.28" r="1.9" fill="#111"/>
<line x1="589.66" y1="228.73" x2="589.66" y2="235.5" stroke="#111" stroke-width="1.2"/><line x1="587.96" y1="228.73" x2="591.36" y2="228.73" stroke="#111" stroke-width="0.9"/><line x1="587.96" y1="235.5" x2="591.36" y2="235.5" stroke="#111" stroke-width="0.9"/>
<circle cx="589.66" cy="232.11" r="1.9" fill="#111"/>
<line x1="602.53" y1="223.98" x2="602.53" y2="233.47" stroke="#111" stroke-width="1.2"/><line x1="600.83" y1="223.98" x2="604.23" y2="223.98" stroke="#111" stroke-width="0.9"/><line x1="600.83" y1="233.47" x2="604.23" y2="233.47" stroke="#111" stroke-width="0.9"/>
<circle cx="602.53" cy="228.73" r="1.9" fill="#111"/>
<line x1="615.39" y1="213.14" x2="615.39" y2="226.69" stroke="#111" stroke-width="1.2"/><line x1="613.69" y1="213.14" x2="617.09" y2="213.14" stroke="#111" stroke-width="0.9"/><line x1="613.69" y1="226.69" x2="617.09" y2="226.69" stroke="#111" stroke-width="0.9"/>
<circle cx="615.39" cy="219.92" r="1.9" fill="#111"/>
<line x1="628.25" y1="201.63" x2="628.25" y2="221.95" stroke="#111" stroke-width="1.2"/><line x1="626.55" y1="201.63" x2="629.96" y2="201.63" stroke="#111" stroke-width="0.9"/><line x1="626.55" y1="221.95" x2="629.96" y2="221.95" stroke="#111" stroke-width="0.9"/>
<circle cx="628.25" cy="211.79" r="1.9" fill="#111"/>
<line x1="641.12" y1="194.85" x2="641.12" y2="211.11" stroke="#111" stroke-width="1.2"/><line x1="639.42" y1="194.85" x2="642.82" y2="194.85" stroke="#111" stroke-width="0.9"/><line x1="639.42" y1="211.11" x2="642.82" y2="211.11" stroke="#111" stroke-width="0.9"/>
<circle cx="641.12" cy="202.98" r="1.9" fill="#111"/>
<line x1="653.99" y1="184.01" x2="653.99" y2="198.92" stroke="#111" stroke-width="1.2"/><line x1="652.28" y1="184.01" x2="655.69" y2="184.01" stroke="#111" stroke-width="0.9"/><line x1="652.28" y1="198.92" x2="655.69" y2="198.92" stroke="#111" stroke-width="0.9"/>
<circle cx="653.99" cy="191.46" r="1.9" fill="#111"/>
<line x1="666.85" y1="166.4" x2="666.85" y2="189.43" stroke="#111" stroke-width="1.2"/><line x1="665.15" y1="166.4" x2="668.55" y2="166.4" stroke="#111" stroke-width="0.9"/><line x1="665.15" y1="189.43" x2="668.55" y2="189.43" stroke="#111" stroke-width="0.9"/>
<circle cx="666.85" cy="177.91" r="1.9" fill="#111"/>
<text x="609" y="290.9" text-anchor="middle" font-size="8.7" font-weight="bold" font-family="Liberation Sans" fill="#111">Concentration (v/v%)</text>
<text transform="translate(514.2,210.8) rotate(-90)" text-anchor="middle" font-size="8.4" font-weight="bold" font-family="Liberation Sans" fill="#111">ΔR/R<tspan font-size="5.5" dy="1.8">a</tspan><tspan dy="-1.8"> (%)</tspan></text>
<text x="554" y="174.2" font-size="8.2" font-weight="bold" font-family="Liberation Sans" fill="#111"><tspan font-style="italic">y</tspan><tspan dx="1"> = </tspan>1.133x - 1.471</text>
<text x="554" y="188.5" font-size="8.2" font-weight="bold" font-family="Liberation Sans" fill="#111"><tspan font-style="italic">R</tspan><tspan font-size="5.4" dy="-3.3">2</tspan><tspan dy="3.3" dx="0.8"> = 0.995</tspan></text>
<text x="5.2" y="308" font-size="14" fill="#000" font-weight="bold" text-anchor="start" font-family="Liberation Sans" >h</text>
<text x="4.4" y="327.4" font-size="7.5" fill="#000" font-weight="normal" text-anchor="start" font-family="Liberation Sans" >rGO</text>
<path d="M28.33,319.87 L27.21,322.3 L24.31,322.34 L22.43,319.93 L23.5,317.49 L26.5,317.47ZM28.99,324.7 L27.92,327.14 L25.11,327.19 L23.29,324.79 L24.31,322.34 L27.21,322.3ZM29.64,329.53 L28.62,331.98 L25.92,332.04 L24.14,329.64 L25.11,327.19 L27.92,327.14ZM33.01,322.23 L31.84,324.66 L28.99,324.7 L27.21,322.3 L28.33,319.87 L31.28,319.84ZM33.52,327.04 L32.4,329.47 L29.64,329.53 L27.92,327.14 L28.99,324.7 L31.84,324.66ZM34.02,331.85 L32.95,334.29 L30.3,334.36 L28.62,331.98 L29.64,329.53 L32.4,329.47ZM37.18,319.78 L35.91,322.19 L33.01,322.23 L31.28,319.84 L32.5,317.42 L35.5,317.4ZM37.54,324.57 L36.32,326.99 L33.52,327.04 L31.84,324.66 L33.01,322.23 L35.91,322.19ZM37.9,329.36 L36.73,331.79 L34.02,331.85 L32.4,329.47 L33.52,327.04 L36.32,326.99ZM41.71,322.12 L40.39,324.53 L37.54,324.57 L35.91,322.19 L37.18,319.78 L40.13,319.75ZM41.92,326.89 L40.65,329.3 L37.9,329.36 L36.32,326.99 L37.54,324.57 L40.39,324.53ZM42.13,331.66 L40.91,334.08 L38.26,334.15 L36.73,331.79 L37.9,329.36 L40.65,329.3ZM46.03,319.69 L44.61,322.08 L41.71,322.12 L40.13,319.75 L41.5,317.35 L44.5,317.33ZM46.09,324.44 L44.72,326.84 L41.92,326.89 L40.39,324.53 L41.71,322.12 L44.61,322.08ZM46.15,329.19 L44.83,331.6 L42.13,331.66 L40.65,329.3 L41.92,326.89 L44.72,326.84ZM50.41,322.01 L48.94,324.4 L46.09,324.44 L44.61,322.08 L46.03,319.69 L48.98,319.66ZM50.32,326.74 L48.9,329.13 L46.15,329.19 L44.72,326.84 L46.09,324.44 L48.94,324.4ZM50.23,331.47 L48.86,333.87 L46.21,333.94 L44.83,331.6 L46.15,329.19 L48.9,329.13ZM54.88,319.6 L53.31,321.97 L50.41,322.01 L48.98,319.66 L50.5,317.28 L53.5,317.26ZM54.64,324.31 L53.12,326.69 L50.32,326.74 L48.94,324.4 L50.41,322.01 L53.31,321.97ZM54.4,329.02 L52.93,331.41 L50.23,331.47 L48.9,329.13 L50.32,326.74 L53.12,326.69ZM59.11,321.9 L57.49,324.27 L54.64,324.31 L53.31,321.97 L54.88,319.6 L57.83,319.57ZM58.72,326.59 L57.15,328.97 L54.4,329.02 L53.12,326.69 L54.64,324.31 L57.49,324.27ZM58.33,331.28 L56.81,333.66 L54.16,333.73 L52.93,331.41 L54.4,329.02 L57.15,328.97ZM63.73,319.51 L62.01,321.86 L59.11,321.9 L57.83,319.57 L59.5,317.21 L62.5,317.19ZM63.19,324.18 L61.52,326.54 L58.72,326.59 L57.49,324.27 L59.11,321.9 L62.01,321.86ZM62.65,328.85 L61.03,331.22 L58.33,331.28 L57.15,328.97 L58.72,326.59 L61.52,326.54ZM67.81,321.79 L66.04,324.14 L63.19,324.18 L62.01,321.86 L63.73,319.51 L66.68,319.48ZM67.12,326.44 L65.41,328.8 L62.65,328.85 L61.52,326.54 L63.19,324.18 L66.04,324.14ZM66.44,331.09 L64.77,333.45 L62.12,333.52 L61.03,331.22 L62.65,328.85 L65.41,328.8ZM72.58,319.42 L70.71,321.75 L67.81,321.79 L66.68,319.48 L68.5,317.14 L71.5,317.12ZM71.74,324.05 L69.93,326.39 L67.12,326.44 L66.04,324.14 L67.81,321.79 L70.71,321.75ZM70.91,328.68 L69.14,331.03 L66.44,331.09 L65.41,328.8 L67.12,326.44 L69.93,326.39ZM76.51,321.68 L74.59,324.01 L71.74,324.05 L70.71,321.75 L72.58,319.42 L75.53,319.39ZM75.53,326.29 L73.66,328.63 L70.91,328.68 L69.93,326.39 L71.74,324.05 L74.59,324.01ZM74.54,330.9 L72.72,333.24 L70.07,333.31 L69.14,331.03 L70.91,328.68 L73.66,328.63ZM81.43,319.33 L79.41,321.64 L76.51,321.68 L75.53,319.39 L77.5,317.07 L80.5,317.05ZM80.3,323.92 L78.33,326.24 L75.53,326.29 L74.59,324.01 L76.51,321.68 L79.41,321.64ZM79.16,328.51 L77.24,330.84 L74.54,330.9 L73.66,328.63 L75.53,326.29 L78.33,326.24ZM85.21,321.57 L83.15,323.88 L80.3,323.92 L79.41,321.64 L81.43,319.33 L84.38,319.3ZM83.93,326.14 L81.91,328.46 L79.16,328.51 L78.33,326.24 L80.3,323.92 L83.15,323.88ZM82.64,330.71 L80.67,333.03 L78.02,333.1 L77.24,330.84 L79.16,328.51 L81.91,328.46Z" fill="#e8e8e8" stroke="#4a4a4a" stroke-width="1.15"/>
<g fill="#555"><circle cx="24.31" cy="322.34" r="1.05"/><circle cx="48.98" cy="319.66" r="1.05"/><circle cx="78.02" cy="333.1" r="1.05"/><circle cx="70.71" cy="321.75" r="1.05"/><circle cx="71.74" cy="324.05" r="1.05"/><circle cx="66.44" cy="331.09" r="1.05"/><circle cx="30.3" cy="334.36" r="1.05"/><circle cx="83.93" cy="326.14" r="1.05"/><circle cx="44.61" cy="322.08" r="1.05"/><circle cx="25.11" cy="327.19" r="1.05"/><circle cx="80.67" cy="333.03" r="1.05"/><circle cx="27.92" cy="327.14" r="1.05"/><circle cx="66.04" cy="324.14" r="1.05"/><circle cx="58.33" cy="331.28" r="1.05"/><circle cx="72.72" cy="333.24" r="1.05"/><circle cx="67.81" cy="321.79" r="1.05"/><circle cx="65.41" cy="328.8" r="1.05"/><circle cx="57.15" cy="328.97" r="1.05"/><circle cx="54.16" cy="333.73" r="1.05"/><circle cx="37.18" cy="319.78" r="1.05"/><circle cx="54.64" cy="324.31" r="1.05"/><circle cx="46.03" cy="319.69" r="1.05"/><circle cx="32.4" cy="329.47" r="1.05"/><circle cx="36.32" cy="326.99" r="1.05"/><circle cx="53.12" cy="326.69" r="1.05"/><circle cx="27.21" cy="322.3" r="1.05"/><circle cx="68.5" cy="317.14" r="1.05"/><circle cx="31.84" cy="324.66" r="1.05"/><circle cx="40.65" cy="329.3" r="1.05"/><circle cx="77.5" cy="317.07" r="1.05"/><circle cx="82.64" cy="330.71" r="1.05"/><circle cx="46.21" cy="333.94" r="1.05"/><circle cx="29.64" cy="329.53" r="1.05"/><circle cx="74.54" cy="330.9" r="1.05"/><circle cx="84.38" cy="319.3" r="1.05"/><circle cx="48.86" cy="333.87" r="1.05"/><circle cx="85.21" cy="321.57" r="1.05"/><circle cx="38.26" cy="334.15" r="1.05"/><circle cx="25.92" cy="332.04" r="1.05"/><circle cx="32.95" cy="334.29" r="1.05"/><circle cx="67.12" cy="326.44" r="1.05"/><circle cx="57.49" cy="324.27" r="1.05"/><circle cx="57.83" cy="319.57" r="1.05"/><circle cx="41.92" cy="326.89" r="1.05"/><circle cx="40.39" cy="324.53" r="1.05"/><circle cx="58.72" cy="326.59" r="1.05"/><circle cx="71.5" cy="317.12" r="1.05"/><circle cx="73.66" cy="328.63" r="1.05"/><circle cx="81.91" cy="328.46" r="1.05"/><circle cx="52.93" cy="331.41" r="1.05"/><circle cx="61.03" cy="331.22" r="1.05"/><circle cx="22.43" cy="319.93" r="1.05"/><circle cx="78.33" cy="326.24" r="1.05"/><circle cx="81.43" cy="319.33" r="1.05"/><circle cx="59.5" cy="317.21" r="1.05"/><circle cx="83.15" cy="323.88" r="1.05"/><circle cx="46.15" cy="329.19" r="1.05"/><circle cx="75.53" cy="319.39" r="1.05"/><circle cx="48.9" cy="329.13" r="1.05"/><circle cx="79.16" cy="328.51" r="1.05"/><circle cx="54.4" cy="329.02" r="1.05"/><circle cx="26.5" cy="317.47" r="1.05"/><circle cx="63.19" cy="324.18" r="1.05"/><circle cx="50.23" cy="331.47" r="1.05"/><circle cx="62.5" cy="317.19" r="1.05"/><circle cx="40.91" cy="334.08" r="1.05"/><circle cx="80.3" cy="323.92" r="1.05"/><circle cx="63.73" cy="319.51" r="1.05"/><circle cx="66.68" cy="319.48" r="1.05"/><circle cx="72.58" cy="319.42" r="1.05"/><circle cx="23.5" cy="317.49" r="1.05"/><circle cx="50.32" cy="326.74" r="1.05"/><circle cx="35.5" cy="317.4" r="1.05"/><circle cx="61.52" cy="326.54" r="1.05"/><circle cx="70.07" cy="333.31" r="1.05"/><circle cx="69.14" cy="331.03" r="1.05"/><circle cx="74.59" cy="324.01" r="1.05"/><circle cx="32.5" cy="317.42" r="1.05"/><circle cx="69.93" cy="326.39" r="1.05"/><circle cx="28.99" cy="324.7" r="1.05"/><circle cx="62.65" cy="328.85" r="1.05"/><circle cx="76.51" cy="321.68" r="1.05"/><circle cx="44.5" cy="317.33" r="1.05"/><circle cx="37.9" cy="329.36" r="1.05"/><circle cx="62.12" cy="333.52" r="1.05"/><circle cx="62.01" cy="321.86" r="1.05"/><circle cx="46.09" cy="324.44" r="1.05"/><circle cx="41.5" cy="317.35" r="1.05"/><circle cx="56.81" cy="333.66" r="1.05"/><circle cx="36.73" cy="331.79" r="1.05"/><circle cx="53.5" cy="317.26" r="1.05"/><circle cx="59.11" cy="321.9" r="1.05"/><circle cx="33.01" cy="322.23" r="1.05"/><circle cx="31.28" cy="319.84" r="1.05"/><circle cx="41.71" cy="322.12" r="1.05"/><circle cx="33.52" cy="327.04" r="1.05"/><circle cx="23.29" cy="324.79" r="1.05"/><circle cx="35.91" cy="322.19" r="1.05"/><circle cx="75.53" cy="326.29" r="1.05"/><circle cx="28.62" cy="331.98" r="1.05"/><circle cx="42.13" cy="331.66" r="1.05"/><circle cx="24.14" cy="329.64" r="1.05"/><circle cx="79.41" cy="321.64" r="1.05"/><circle cx="28.33" cy="319.87" r="1.05"/><circle cx="48.94" cy="324.4" r="1.05"/><circle cx="50.41" cy="322.01" r="1.05"/><circle cx="50.5" cy="317.28" r="1.05"/><circle cx="53.31" cy="321.97" r="1.05"/><circle cx="80.5" cy="317.05" r="1.05"/><circle cx="34.02" cy="331.85" r="1.05"/><circle cx="70.91" cy="328.68" r="1.05"/><circle cx="44.83" cy="331.6" r="1.05"/><circle cx="77.24" cy="330.84" r="1.05"/><circle cx="54.88" cy="319.6" r="1.05"/><circle cx="37.54" cy="324.57" r="1.05"/><circle cx="64.77" cy="333.45" r="1.05"/><circle cx="40.13" cy="319.75" r="1.05"/><circle cx="44.72" cy="326.84" r="1.05"/></g>
<circle cx="21" cy="316.4" r="1.1" fill="#e01010"/>
<circle cx="38.5" cy="317" r="1.1" fill="#e01010"/>
<circle cx="44" cy="316" r="1.1" fill="#e01010"/>
<circle cx="48" cy="317.8" r="1.1" fill="#e01010"/>
<circle cx="36.5" cy="322" r="1.2" fill="#e01010"/>
<circle cx="49.5" cy="325" r="1.2" fill="#e01010"/>
<circle cx="62" cy="318" r="1.1" fill="#e01010"/>
<circle cx="81" cy="317.5" r="1.1" fill="#e01010"/>
<circle cx="87.5" cy="321" r="1.1" fill="#e01010"/>
<circle cx="17" cy="334" r="1.1" fill="#e01010"/>
<circle cx="15.5" cy="336.5" r="1" fill="#e01010"/>
<circle cx="44.5" cy="319" r="1.2" fill="#e01010"/>
<circle cx="57" cy="302.3" r="1.9" fill="#1a2ee8"/><circle cx="65.3" cy="306" r="1.5" fill="#1a2ee8"/><circle cx="60" cy="308.4" r="4.6" fill="#e30c0c"/><circle cx="58.39" cy="306.79" r="1.61" fill="#fff" opacity="0.45"/>
<polyline points="70,303.5 72.5,306 75.3,303.2" fill="none" stroke="#1a2ee8" stroke-width="0.9"/><circle cx="72.5" cy="306" r="1.4" fill="#e01010"/><polyline points="68,313 70.5,315.5 73.3,312.7" fill="none" stroke="#1a2ee8" stroke-width="0.9"/><circle cx="70.5" cy="315.5" r="1.4" fill="#e01010"/>
<line x1="59.5" y1="338" x2="63.5" y2="338.7" stroke="#1a2ee8" stroke-width="0.8"/><circle cx="59.5" cy="338" r="1.1" fill="#1a2ee8"/><circle cx="63.5" cy="338.7" r="1.1" fill="#1a2ee8"/>
<line x1="67.5" y1="336.8" x2="70.8" y2="339.2" stroke="#1a2ee8" stroke-width="0.8"/><circle cx="67.5" cy="336.8" r="1.1" fill="#1a2ee8"/><circle cx="70.8" cy="339.2" r="1.1" fill="#1a2ee8"/>
<line x1="67" y1="344" x2="70.2" y2="342.7" stroke="#1a2ee8" stroke-width="0.8"/><circle cx="67" cy="344" r="1.1" fill="#1a2ee8"/><circle cx="70.2" cy="342.7" r="1.1" fill="#1a2ee8"/>
<text x="77.3" y="312.6" font-size="7.4" font-weight="bold" font-family="Liberation Sans" fill="#111">H<tspan font-size="4.8" dy="1.6">2</tspan><tspan dy="-1.6">O</tspan></text>
<text x="72.5" y="343.4" font-size="7.4" font-weight="bold" font-family="Liberation Sans" fill="#111">H<tspan font-size="4.8" dy="1.6">2</tspan></text>
<rect x="21" y="357.5" width="22.2" height="34.8" fill="#c9cdd1" stroke="#aeb3b8" stroke-width="0.6"/>
<rect x="24.3" y="361.2" width="17.5" height="26.2" fill="#e9e4cf" stroke="#bbb5a0" stroke-width="0.5"/>
<rect x="43.2" y="356.8" width="26.6" height="30.6" fill="#dcdee0" stroke="#b5b9bd" stroke-width="0.6"/>
<rect x="45.5" y="361.8" width="17.5" height="24.3" fill="#ece7d3" stroke="#bbb5a0" stroke-width="0.5"/>
<g stroke="#7a7260" stroke-width="0.4"><line x1="25.5" y1="364.5" x2="40.8" y2="364.5"/><line x1="25.5" y1="366.8" x2="40.8" y2="366.8"/><line x1="25.5" y1="371.2" x2="40.8" y2="371.2"/><line x1="25.5" y1="373.2" x2="40.8" y2="373.2"/><line x1="25.5" y1="378.5" x2="40.8" y2="378.5"/><line x1="25.5" y1="380.2" x2="40.8" y2="380.2"/><line x1="25.5" y1="384.5" x2="40.8" y2="384.5"/><line x1="46.5" y1="364.5" x2="62" y2="365.0"/><line x1="46.5" y1="366.2" x2="62" y2="366.7"/><line x1="46.5" y1="371.5" x2="62" y2="372.0"/><line x1="46.5" y1="373" x2="62" y2="373.5"/><line x1="46.5" y1="378.6" x2="62" y2="379.1"/><line x1="46.5" y1="380.3" x2="62" y2="380.8"/><line x1="46.5" y1="384.6" x2="62" y2="385.1"/></g>
<rect x="18.7" y="370.5" width="1.8" height="9.4" fill="#333"/>
<rect x="44.3" y="387.4" width="1.8" height="12.4" fill="#c7cacd"/><rect x="48.3" y="387.4" width="1.8" height="9" fill="#c7cacd"/>
<ellipse cx="58.5" cy="399.4" rx="7.8" ry="3.2" fill="none" stroke="#999" stroke-width="0.6"/>
<rect x="59.8" y="386.9" width="8.6" height="15.3" fill="#e2e4e6" stroke="#999" stroke-width="0.5"/>
<rect x="61" y="388.6" width="6" height="4.5" fill="#8f9396"/>
<text x="13.2" y="411.9" font-size="7.3" fill="#111" font-weight="bold" text-anchor="start" font-family="Liberation Sans" >thermal treatment</text>
<text x="30.1" y="421.1" font-size="7.3" fill="#111" font-weight="bold" text-anchor="start" font-family="Liberation Sans" >(30 min)</text>
<polyline points="69.8,374.3 84.2,334.1 104.8,334.1" fill="none" stroke="#555" stroke-width="0.7" stroke-dasharray="1 0.8"/>
<circle cx="104.8" cy="334.1" r="1" fill="#555"/>
<line x1="113" y1="334.1" x2="158" y2="334.1" stroke="#555" stroke-width="0.7" stroke-dasharray="1 0.8" opacity="0.55"/>
<path d="M108.4,329.9 L111,333.3 L116.2,325.5" fill="none" stroke="#8a8a8a" stroke-width="2.1" stroke-linejoin="round" stroke-linecap="round"/>
<text x="123.8" y="331.2" font-size="7.3" fill="#1a1a1a" font-weight="normal" text-anchor="start" font-family="Liberation Sans" >rGO-250</text>
<polyline points="69.8,374.3 84.2,361.2 104.8,361.2" fill="none" stroke="#8e3fc6" stroke-width="0.7" stroke-dasharray="1 0.8"/>
<circle cx="104.8" cy="361.2" r="1" fill="#8e3fc6"/>
<line x1="113" y1="361.2" x2="158" y2="361.2" stroke="#8e3fc6" stroke-width="0.7" stroke-dasharray="1 0.8" opacity="0.55"/>
<path d="M108.4,357 L111,360.4 L116.2,352.6" fill="none" stroke="#8d62c9" stroke-width="2.1" stroke-linejoin="round" stroke-linecap="round"/>
<text x="123.8" y="359" font-size="7.3" fill="#8e3fc6" font-weight="normal" text-anchor="start" font-family="Liberation Sans" >rGO-200</text>
<polyline points="69.8,374.3 84.2,390.1 104.8,390.1" fill="none" stroke="#4a7d3a" stroke-width="0.7" stroke-dasharray="1 0.8"/>
<circle cx="104.8" cy="390.1" r="1" fill="#4a7d3a"/>
<line x1="113" y1="390.1" x2="158" y2="390.1" stroke="#4a7d3a" stroke-width="0.7" stroke-dasharray="1 0.8" opacity="0.55"/>
<path d="M108.4,385.9 L111,389.3 L116.2,381.5" fill="none" stroke="#6d8d62" stroke-width="2.1" stroke-linejoin="round" stroke-linecap="round"/>
<text x="123.8" y="387.3" font-size="7.3" fill="#4a8a3a" font-weight="normal" text-anchor="start" font-family="Liberation Sans" >rGO-150</text>
<polyline points="69.8,374.3 84.2,418.3 104.8,418.3" fill="none" stroke="#e42020" stroke-width="0.7" stroke-dasharray="1 0.8"/>
<circle cx="104.8" cy="418.3" r="1" fill="#e42020"/>
<line x1="113" y1="418.3" x2="158" y2="418.3" stroke="#e42020" stroke-width="0.7" stroke-dasharray="1 0.8" opacity="0.55"/>
<path d="M108.4,414.1 L111,417.5 L116.2,409.7" fill="none" stroke="#cc3a3a" stroke-width="2.1" stroke-linejoin="round" stroke-linecap="round"/>
<text x="125.3" y="415.3" font-size="7.3" fill="#e42020" font-weight="normal" text-anchor="start" font-family="Liberation Sans" >rGO-90</text>
<text x="162.6" y="307.3" font-size="14" fill="#000" font-weight="bold" text-anchor="start" font-family="Liberation Sans" >i</text>
<rect x="167.6" y="302.5" width="146.3" height="112.8" fill="none" stroke="#555" stroke-width="0.9"/>
<g stroke="#444" stroke-width="0.8"><line x1="168.2" y1="415.3" x2="168.2" y2="417.3"/><line x1="185.3" y1="415.3" x2="185.3" y2="416.5"/><line x1="202.4" y1="415.3" x2="202.4" y2="417.3"/><line x1="219.5" y1="415.3" x2="219.5" y2="416.5"/><line x1="236.6" y1="415.3" x2="236.6" y2="417.3"/><line x1="253.7" y1="415.3" x2="253.7" y2="416.5"/><line x1="270.8" y1="415.3" x2="270.8" y2="417.3"/><line x1="287.9" y1="415.3" x2="287.9" y2="416.5"/><line x1="305" y1="415.3" x2="305" y2="417.3"/></g>
<text x="168.2" y="427" text-anchor="middle" font-size="7.3" font-family="Liberation Sans" fill="#111">1000</text>
<text x="202.4" y="427" text-anchor="middle" font-size="7.3" font-family="Liberation Sans" fill="#111">1200</text>
<text x="236.6" y="427" text-anchor="middle" font-size="7.3" font-family="Liberation Sans" fill="#111">1400</text>
<text x="270.8" y="427" text-anchor="middle" font-size="7.3" font-family="Liberation Sans" fill="#111">1600</text>
<text x="305" y="427" text-anchor="middle" font-size="7.3" font-family="Liberation Sans" fill="#111">1800</text>
<text x="240.5" y="439.2" text-anchor="middle" font-size="7.2" font-weight="bold" font-family="Liberation Sans" fill="#111">Raman shift/ cm<tspan font-size="4.5" dy="-2.5">-1</tspan></text>
<polyline points="168.2,330.51 168.88,330.57 169.57,330.8 170.25,330.46 170.94,330.47 171.62,330.5 172.3,330.2 172.99,330.41 173.67,330.47 174.36,330.56 175.04,330.05 175.72,330.17 176.41,329.99 177.09,330.47 177.78,330.37 178.46,329.88 179.14,330.52 179.83,330.48 180.51,330.23 181.2,330.17 181.88,329.82 182.56,329.69 183.25,330.02 183.93,329.66 184.62,329.72 185.3,329.72 185.98,329.54 186.67,329.81 187.35,329.75 188.04,329.99 188.72,329.73 189.4,329.77 190.09,329.63 190.77,329.7 191.46,329.51 192.14,329.33 192.82,329.79 193.51,329.73 194.19,329.57 194.88,329.42 195.56,329.08 196.24,328.96 196.93,328.93 197.61,328.71 198.3,329.12 198.98,328.79 199.66,329.02 200.35,328.61 201.03,328.92 201.72,328.75 202.4,328.05 203.08,328.09 203.77,328.46 204.45,328.03 205.14,328.25 205.82,327.7 206.5,327.32 207.19,327.54 207.87,327.47 208.56,326.92 209.24,326.59 209.92,326.54 210.61,326.73 211.29,326.33 211.98,325.59 212.66,325.36 213.34,324.92 214.03,324.51 214.71,324.61 215.4,323.72 216.08,323.49 216.76,322.86 217.45,322.08 218.13,321.79 218.82,320.64 219.5,320.19 220.18,318.95 220.87,318.21 221.55,317.04 222.24,315.99 222.92,315.34 223.6,314.05 224.29,312.52 224.97,311.79 225.66,310.27 226.34,309.49 227.02,309.11 227.71,308.5 228.39,307.95 229.08,308.7 229.76,308.57 230.44,309.26 231.13,310.48 231.81,311.18 232.5,312.25 233.18,313.22 233.86,314.37 234.55,315.81 235.23,316.61 235.92,317.84 236.6,318.58 237.28,319.46 237.97,320.56 238.65,320.91 239.34,321.59 240.02,322.34 240.7,322.35 241.39,322.78 242.07,323.7 242.76,323.98 243.44,323.9 244.12,324.13 244.81,324.75 245.49,325.11 246.18,324.77 246.86,325.46 247.54,325.54 248.23,325.46 248.91,325.42 249.6,325.26 250.28,325.26 250.96,325.93 251.65,325.43 252.33,325.74 253.02,325.39 253.7,325.72 254.38,325.47 255.07,325.15 255.75,324.92 256.44,325.12 257.12,324.44 257.8,324.29 258.49,324.21 259.17,324.04 259.86,323.44 260.54,322.69 261.22,322.52 261.91,321.29 262.59,320.3 263.28,319.47 263.96,318.4 264.64,316.74 265.33,315.21 266.01,313.53 266.7,311.67 267.38,309.27 268.06,307.41 268.75,306.04 269.43,304.92 270.12,304.28 270.8,304.75 271.48,305.89 272.17,307.34 272.85,309.33 273.54,311.44 274.22,314.09 274.9,315.8 275.59,317.63 276.27,318.39 276.96,320.05 277.64,320.99 278.32,322.07 279.01,322.55 279.69,323.68 280.38,323.6 281.06,324.42 281.74,324.98 282.43,325.46 283.11,325.67 283.8,325.93 284.48,326.24 285.16,326.55 285.85,326.35 286.53,326.76 287.22,327.07 287.9,327.19 288.58,326.99 289.27,327.37 289.95,327.52 290.64,327.41 291.32,327.53 292,327.44 292.69,327.65 293.37,327.73 294.06,327.42 294.74,327.86 295.42,328.16 296.11,328.12 296.79,328.06 297.48,327.86 298.16,328.13 298.84,328.06 299.53,327.99 300.21,328.29 300.9,327.79 301.58,328.28 302.26,327.79 302.95,328.21 303.63,328.15 304.32,327.99 305,328.33 305.68,328.2 306.37,328.3 307.05,328.52 307.74,328.07 308.42,327.9 309.1,328.12 309.79,328.39 310.47,328.06 311.16,328.04 311.84,328.56 312.52,328.4 313.21,328.25 313.89,328.57 314.58,328.17 315.26,328.41" fill="none" stroke="#2233ee" stroke-width="1.25" stroke-linejoin="round"/>
<polyline points="168.2,346.65 168.88,346.81 169.57,347.06 170.25,347.13 170.94,347.09 171.62,346.74 172.3,346.86 172.99,346.67 173.67,346.53 174.36,346.77 175.04,347 175.72,346.99 176.41,346.88 177.09,347.04 177.78,346.55 178.46,346.47 179.14,346.65 179.83,346.51 180.51,346.45 181.2,346.58 181.88,346.71 182.56,346.6 183.25,346.46 183.93,346.81 184.62,346.89 185.3,346.5 185.98,346.21 186.67,346.16 187.35,346.73 188.04,346.12 188.72,346.56 189.4,346.44 190.09,346.23 190.77,346.54 191.46,345.97 192.14,346.02 192.82,346.21 193.51,345.88 194.19,346.41 194.88,345.96 195.56,345.85 196.24,345.74 196.93,346.11 197.61,345.93 198.3,346.01 198.98,345.98 199.66,346.03 200.35,346.08 201.03,345.82 201.72,345.42 202.4,345.54 203.08,345.25 203.77,345.06 204.45,345.29 205.14,345.37 205.82,344.89 206.5,344.85 207.19,344.79 207.87,344.91 208.56,344.65 209.24,344.57 209.92,344.51 210.61,344.08 211.29,344.17 211.98,344.05 212.66,343.25 213.34,343.6 214.03,343.18 214.71,342.47 215.4,342.38 216.08,342.14 216.76,341.95 217.45,341.15 218.13,340.82 218.82,340.52 219.5,339.91 220.18,339.4 220.87,338.41 221.55,337.85 222.24,336.79 222.92,336.39 223.6,335.67 224.29,334.77 224.97,334.07 225.66,333.04 226.34,332.93 227.02,332.54 227.71,332.25 228.39,331.84 229.08,332.1 229.76,332.04 230.44,332.88 231.13,333.41 231.81,333.72 232.5,334.26 233.18,335.28 233.86,336.12 234.55,337.02 235.23,337.54 235.92,337.9 236.6,339.08 237.28,339.14 237.97,340.19 238.65,340.24 239.34,340.8 240.02,341.52 240.7,341.42 241.39,341.76 242.07,342.31 242.76,342.72 243.44,343.03 244.12,343.14 244.81,343.51 245.49,343.36 246.18,343.82 246.86,343.35 247.54,343.56 248.23,343.87 248.91,343.78 249.6,344.16 250.28,344.15 250.96,344.11 251.65,344.36 252.33,344.17 253.02,343.99 253.7,344.02 254.38,344.31 255.07,344.3 255.75,343.75 256.44,344.11 257.12,344.08 257.8,343.63 258.49,343.5 259.17,343.04 259.86,343.03 260.54,342.72 261.22,342.46 261.91,341.66 262.59,341.86 263.28,340.99 263.96,340.27 264.64,339.82 265.33,338.8 266.01,337.81 266.7,336.92 267.38,335.41 268.06,334.7 268.75,333.71 269.43,333.44 270.12,333.13 270.8,332.79 271.48,333.45 272.17,334.03 272.85,335.27 273.54,336.63 274.22,337.79 274.9,338.52 275.59,339.34 276.27,340.08 276.96,341.1 277.64,341.95 278.32,341.94 279.01,342.86 279.69,342.74 280.38,343.22 281.06,343.55 281.74,344.14 282.43,344.12 283.11,344.35 283.8,344.72 284.48,344.52 285.16,345.1 285.85,344.81 286.53,345.19 287.22,345.11 287.9,345.17 288.58,345.49 289.27,345.5 289.95,345.53 290.64,345.62 291.32,345.76 292,345.55 292.69,345.63 293.37,345.98 294.06,346.03 294.74,345.99 295.42,346.25 296.11,346.11 296.79,346.32 297.48,345.91 298.16,346.29 298.84,346.37 299.53,346.45 300.21,346.07 300.9,346.09 301.58,346.53 302.26,346.06 302.95,346.62 303.63,346.56 304.32,346.05 305,346.13 305.68,346.49 306.37,346.17 307.05,346.07 307.74,346.6 308.42,346.32 309.1,346.59 309.79,346.14 310.47,346.34 311.16,346.54 311.84,346.09 312.52,346.22 313.21,346.57 313.89,346.73 314.58,346.78 315.26,346.19" fill="none" stroke="#ee2222" stroke-width="1.25" stroke-linejoin="round"/>
<polyline points="168.2,361.31 168.88,361.48 169.57,361.3 170.25,361.43 170.94,361.08 171.62,361 172.3,361.02 172.99,360.97 173.67,361.33 174.36,361.31 175.04,361.34 175.72,361.05 176.41,361.08 177.09,361.09 177.78,361.54 178.46,361.64 179.14,361.6 179.83,361.02 180.51,361 181.2,361.63 181.88,361.29 182.56,361.51 183.25,361.21 183.93,361.32 184.62,361.36 185.3,361.31 185.98,361.44 186.67,361.04 187.35,361.53 188.04,361.65 188.72,361.2 189.4,361.41 190.09,361.63 190.77,361.42 191.46,361.3 192.14,361.31 192.82,361.58 193.51,361.27 194.19,361.92 194.88,361.9 195.56,361.88 196.24,362.04 196.93,361.93 197.61,361.84 198.3,362.04 198.98,362.04 199.66,362.44 200.35,362.4 201.03,362.09 201.72,362.62 202.4,362.58 203.08,362.67 203.77,362.76 204.45,362.52 205.14,362.9 205.82,362.91 206.5,362.77 207.19,362.79 207.87,362.73 208.56,362.4 209.24,362.51 209.92,361.92 210.61,361.95 211.29,361.86 211.98,361.35 212.66,361.38 213.34,361.35 214.03,361.11 214.71,360.58 215.4,360.81 216.08,360.33 216.76,359.79 217.45,359.68 218.13,359.25 218.82,358.81 219.5,358.25 220.18,358.15 220.87,357.28 221.55,356.6 222.24,355.79 222.92,354.93 223.6,353.04 224.29,352.01 224.97,350.4 225.66,348.16 226.34,346.26 227.02,344.15 227.71,342.88 228.39,342.46 229.08,342.69 229.76,344.05 230.44,346.25 231.13,347.88 231.81,349.63 232.5,351.51 233.18,352.55 233.86,353.93 234.55,354.56 235.23,355.39 235.92,355.46 236.6,356.28 237.28,356.77 237.97,356.57 238.65,357.43 239.34,357.09 240.02,357.46 240.7,357.37 241.39,357.69 242.07,357.84 242.76,357.5 243.44,358.15 244.12,357.79 244.81,357.87 245.49,357.9 246.18,357.71 246.86,357.62 247.54,357.83 248.23,357.71 248.91,357.44 249.6,357.67 250.28,357.29 250.96,357 251.65,357.05 252.33,356.79 253.02,356.74 253.7,357.02 254.38,356.61 255.07,356.8 255.75,356.51 256.44,355.81 257.12,356.25 257.8,355.96 258.49,355.07 259.17,355.33 259.86,354.64 260.54,354.27 261.22,354.15 261.91,353.1 262.59,352.68 263.28,352.26 263.96,351.31 264.64,350.24 265.33,349.62 266.01,348.49 266.7,347.36 267.38,346.18 268.06,345.97 268.75,345.65 269.43,345.68 270.12,346.14 270.8,347.31 271.48,348.01 272.17,349.25 272.85,350.38 273.54,351.14 274.22,351.81 274.9,352.74 275.59,353.25 276.27,354.04 276.96,354.34 277.64,355.08 278.32,355.42 279.01,355.59 279.69,355.54 280.38,355.71 281.06,356.5 281.74,356.64 282.43,356.73 283.11,356.73 283.8,356.84 284.48,357.29 285.16,357.36 285.85,357.52 286.53,357.69 287.22,357.9 287.9,357.62 288.58,357.78 289.27,358.4 289.95,358.46 290.64,358.53 291.32,358.04 292,358.14 292.69,358.38 293.37,358.57 294.06,358.79 294.74,358.5 295.42,358.88 296.11,358.62 296.79,358.7 297.48,359.18 298.16,359.15 298.84,359.27 299.53,359.14 300.21,359.27 300.9,359.14 301.58,359.28 302.26,359.61 302.95,359.72 303.63,359.24 304.32,359.31 305,359.84 305.68,359.75 306.37,359.89 307.05,359.54 307.74,359.72 308.42,359.64 309.1,360.06 309.79,359.78 310.47,360.02 311.16,360.28 311.84,359.85 312.52,360.03 313.21,360.2 313.89,360.34 314.58,360.03 315.26,360.01" fill="none" stroke="#33a033" stroke-width="1.25" stroke-linejoin="round"/>
<polyline points="168.2,385.2 168.88,385.74 169.57,385.17 170.25,385.16 170.94,385.49 171.62,385.43 172.3,385.56 172.99,385.27 173.67,385.6 174.36,385.1 175.04,385.18 175.72,385.48 176.41,385.06 177.09,385.2 177.78,385.48 178.46,385.44 179.14,385.14 179.83,385.02 180.51,385.15 181.2,385.39 181.88,385.11 182.56,384.91 183.25,385.3 183.93,385.17 184.62,385.38 185.3,385.36 185.98,385.3 186.67,384.92 187.35,385.12 188.04,384.71 188.72,384.64 189.4,384.61 190.09,384.89 190.77,384.74 191.46,384.15 192.14,384.08 192.82,383.91 193.51,383.72 194.19,383.58 194.88,383.44 195.56,383.24 196.24,383.51 196.93,383.74 197.61,383.67 198.3,383.99 198.98,383.91 199.66,383.74 200.35,384.22 201.03,384.35 201.72,383.96 202.4,383.79 203.08,384.14 203.77,384.14 204.45,384.13 205.14,384.37 205.82,384.1 206.5,384.15 207.19,383.56 207.87,383.82 208.56,383.9 209.24,383.3 209.92,383.18 210.61,383.51 211.29,383.48 211.98,382.75 212.66,382.95 213.34,382.4 214.03,382.6 214.71,382.27 215.4,381.7 216.08,381.35 216.76,381.35 217.45,380.76 218.13,380.44 218.82,379.62 219.5,378.93 220.18,378.63 220.87,377.57 221.55,376.46 222.24,375.37 222.92,374.22 223.6,372.77 224.29,371.33 224.97,369.29 225.66,367.88 226.34,366.16 227.02,364.95 227.71,364.01 228.39,363.69 229.08,364 229.76,364.9 230.44,365.96 231.13,367.42 231.81,369.2 232.5,370.88 233.18,372.13 233.86,373.5 234.55,374.52 235.23,375.99 235.92,377.07 236.6,377.42 237.28,377.93 237.97,378.51 238.65,379.13 239.34,379.43 240.02,380.23 240.7,379.86 241.39,380.24 242.07,380.28 242.76,380.78 243.44,380.95 244.12,380.59 244.81,380.53 245.49,380.81 246.18,380.87 246.86,381.04 247.54,380.36 248.23,380.32 248.91,380.27 249.6,380.18 250.28,380.08 250.96,380.29 251.65,380.08 252.33,379.71 253.02,379.57 253.7,379.53 254.38,379.36 255.07,379.67 255.75,379.27 256.44,379.33 257.12,379.4 257.8,379.01 258.49,378.68 259.17,378.9 259.86,378.65 260.54,377.9 261.22,377.63 261.91,377.42 262.59,376.49 263.28,375.6 263.96,374.67 264.64,374.4 265.33,373.32 266.01,372.02 266.7,371.14 267.38,370.28 268.06,369.49 268.75,369.69 269.43,369.52 270.12,369.67 270.8,370.28 271.48,371.59 272.17,372.64 272.85,374.1 273.54,375.17 274.22,376.16 274.9,376.81 275.59,377.68 276.27,378.57 276.96,379.2 277.64,380.23 278.32,380.51 279.01,381.05 279.69,381.7 280.38,381.55 281.06,382.05 281.74,382.06 282.43,382.74 283.11,382.43 283.8,383.2 284.48,383.39 285.16,383.54 285.85,383.16 286.53,383.43 287.22,383.86 287.9,383.53 288.58,383.9 289.27,383.98 289.95,384.41 290.64,384.23 291.32,384.49 292,384.16 292.69,384.57 293.37,384.36 294.06,384.76 294.74,384.23 295.42,384.79 296.11,384.4 296.79,384.68 297.48,384.7 298.16,384.48 298.84,384.98 299.53,384.65 300.21,384.68 300.9,384.54 301.58,384.73 302.26,384.87 302.95,385.06 303.63,384.84 304.32,385.09 305,384.7 305.68,384.92 306.37,384.98 307.05,385.35 307.74,385.27 308.42,385.17 309.1,384.73 309.79,385 310.47,385.25 311.16,384.93 311.84,385.17 312.52,385.11 313.21,384.81 313.89,385.5 314.58,385.38 315.26,384.97" fill="none" stroke="#9b2fb0" stroke-width="1.25" stroke-linejoin="round"/>
<polyline points="168.2,409.24 168.88,409 169.57,409.04 170.25,409.14 170.94,408.96 171.62,408.97 172.3,408.99 172.99,409.17 173.67,408.86 174.36,408.81 175.04,409.16 175.72,408.85 176.41,409.26 177.09,408.97 177.78,409.05 178.46,408.75 179.14,409.06 179.83,408.51 180.51,408.51 181.2,408.43 181.88,408.79 182.56,408.76 183.25,408.32 183.93,408.41 184.62,408.64 185.3,408.37 185.98,407.91 186.67,407.89 187.35,407.69 188.04,407.5 188.72,407.49 189.4,407.01 190.09,407.33 190.77,406.66 191.46,406.38 192.14,406.13 192.82,405.93 193.51,405.78 194.19,405.43 194.88,405.49 195.56,405.74 196.24,405.71 196.93,406.23 197.61,406.66 198.3,407.03 198.98,407.04 199.66,407.04 200.35,407.06 201.03,406.68 201.72,406.89 202.4,406.87 203.08,407.04 203.77,406.59 204.45,406.69 205.14,406.68 205.82,406.76 206.5,406.65 207.19,406.36 207.87,405.9 208.56,406.17 209.24,406.12 209.92,405.72 210.61,405.44 211.29,405.4 211.98,405 212.66,405.25 213.34,405.29 214.03,404.79 214.71,404.74 215.4,404.6 216.08,403.9 216.76,404.11 217.45,403.53 218.13,402.79 218.82,402.2 219.5,401.71 220.18,401.22 220.87,400.46 221.55,399.22 222.24,398.49 222.92,396.76 223.6,395.32 224.29,393.41 224.97,392.19 225.66,389.74 226.34,388.51 227.02,386.77 227.71,385.78 228.39,385.41 229.08,385.54 229.76,386.97 230.44,388.49 231.13,390.1 231.81,391.78 232.5,393.22 233.18,395.37 233.86,396.47 234.55,398.2 235.23,398.86 235.92,400.05 236.6,401.04 237.28,401.28 237.97,402.11 238.65,402.26 239.34,402.62 240.02,403.05 240.7,403.88 241.39,404.05 242.07,404.01 242.76,403.87 243.44,404.18 244.12,404.25 244.81,403.98 245.49,404.07 246.18,404.12 246.86,403.43 247.54,403.37 248.23,403.33 248.91,402.83 249.6,402.68 250.28,402.43 250.96,401.71 251.65,401.46 252.33,400.72 253.02,400.31 253.7,399.46 254.38,398.94 255.07,397.72 255.75,397.34 256.44,396.14 257.12,395.89 257.8,394.87 258.49,394.1 259.17,393.5 259.86,393.2 260.54,392.93 261.22,392.75 261.91,392.56 262.59,392.17 263.28,392.21 263.96,391.59 264.64,390.83 265.33,389.41 266.01,387.99 266.7,386.44 267.38,385.1 268.06,383.78 268.75,383.62 269.43,384.38 270.12,386.15 270.8,387.25 271.48,388.17 272.17,389.17 272.85,389.55 273.54,390.28 274.22,392.18 274.9,394.95 275.59,397.18 276.27,399.46 276.96,400.69 277.64,401.96 278.32,403.14 279.01,403.94 279.69,404.47 280.38,404.74 281.06,405.61 281.74,405.85 282.43,405.95 283.11,406.26 283.8,406.56 284.48,406.65 285.16,406.72 285.85,407.47 286.53,407.65 287.22,407.57 287.9,407.83 288.58,407.63 289.27,408 289.95,407.68 290.64,408.13 291.32,408.09 292,408.39 292.69,407.9 293.37,408.44 294.06,408.03 294.74,408.38 295.42,408.72 296.11,408.1 296.79,408.31 297.48,408.39 298.16,408.45 298.84,408.3 299.53,408.92 300.21,408.9 300.9,408.64 301.58,408.64 302.26,408.82 302.95,408.47 303.63,408.49 304.32,409.12 305,408.73 305.68,408.88 306.37,409.21 307.05,409.26 307.74,408.93 308.42,408.76 309.1,408.84 309.79,409.29 310.47,409.29 311.16,408.82 311.84,409.28 312.52,408.95 313.21,409.05 313.89,408.85 314.58,409.36 315.26,409.45" fill="none" stroke="#111" stroke-width="1.6" stroke-linejoin="round"/>
<polyline points="168.2,409.61 168.88,409.61 169.57,409.6 170.25,409.6 170.94,409.59 171.62,409.59 172.3,409.58 172.99,409.58 173.67,409.57 174.36,409.57 175.04,409.56 175.72,409.55 176.41,409.55 177.09,409.54 177.78,409.53 178.46,409.53 179.14,409.52 179.83,409.51 180.51,409.5 181.2,409.49 181.88,409.49 182.56,409.48 183.25,409.47 183.93,409.46 184.62,409.45 185.3,409.44 185.98,409.42 186.67,409.41 187.35,409.4 188.04,409.38 188.72,409.37 189.4,409.36 190.09,409.34 190.77,409.32 191.46,409.31 192.14,409.29 192.82,409.27 193.51,409.25 194.19,409.23 194.88,409.2 195.56,409.18 196.24,409.15 196.93,409.12 197.61,409.1 198.3,409.06 198.98,409.03 199.66,408.99 200.35,408.96 201.03,408.92 201.72,408.87 202.4,408.82 203.08,408.77 203.77,408.72 204.45,408.66 205.14,408.59 205.82,408.52 206.5,408.45 207.19,408.36 207.87,408.27 208.56,408.17 209.24,408.06 209.92,407.94 210.61,407.81 211.29,407.66 211.98,407.5 212.66,407.32 213.34,407.11 214.03,406.89 214.71,406.63 215.4,406.34 216.08,406.01 216.76,405.63 217.45,405.2 218.13,404.71 218.82,404.14 219.5,403.48 220.18,402.72 220.87,401.84 221.55,400.82 222.24,399.65 222.92,398.3 223.6,396.77 224.29,395.08 224.97,393.26 225.66,391.4 226.34,389.64 227.02,388.15 227.71,387.15 228.39,386.8 229.08,387.15 229.76,388.15 230.44,389.64 231.13,391.4 231.81,393.26 232.5,395.08 233.18,396.77 233.86,398.3 234.55,399.65 235.23,400.82 235.92,401.84 236.6,402.72 237.28,403.48 237.97,404.14 238.65,404.71 239.34,405.2 240.02,405.63 240.7,406.01 241.39,406.34 242.07,406.63 242.76,406.89 243.44,407.11 244.12,407.32 244.81,407.5 245.49,407.66 246.18,407.81 246.86,407.94 247.54,408.06 248.23,408.17 248.91,408.27 249.6,408.36 250.28,408.45 250.96,408.52 251.65,408.59 252.33,408.66 253.02,408.72 253.7,408.77 254.38,408.82 255.07,408.87 255.75,408.92 256.44,408.96 257.12,408.99 257.8,409.03 258.49,409.06 259.17,409.1 259.86,409.12 260.54,409.15 261.22,409.18 261.91,409.2 262.59,409.23 263.28,409.25 263.96,409.27 264.64,409.29 265.33,409.31 266.01,409.32 266.7,409.34 267.38,409.36 268.06,409.37 268.75,409.38 269.43,409.4 270.12,409.41 270.8,409.42 271.48,409.44 272.17,409.45 272.85,409.46 273.54,409.47 274.22,409.48 274.9,409.49 275.59,409.49 276.27,409.5 276.96,409.51 277.64,409.52 278.32,409.53 279.01,409.53 279.69,409.54 280.38,409.55 281.06,409.55 281.74,409.56 282.43,409.57 283.11,409.57 283.8,409.58 284.48,409.58 285.16,409.59 285.85,409.59 286.53,409.6 287.22,409.6 287.9,409.61 288.58,409.61 289.27,409.62 289.95,409.62 290.64,409.62 291.32,409.63 292,409.63 292.69,409.63 293.37,409.64 294.06,409.64 294.74,409.64 295.42,409.65 296.11,409.65 296.79,409.65 297.48,409.66 298.16,409.66 298.84,409.66 299.53,409.66 300.21,409.67 300.9,409.67 301.58,409.67 302.26,409.67 302.95,409.68 303.63,409.68 304.32,409.68 305,409.68 305.68,409.69 306.37,409.69 307.05,409.69 307.74,409.69 308.42,409.69 309.1,409.69 309.79,409.7 310.47,409.7 311.16,409.7 311.84,409.7 312.52,409.7 313.21,409.7 313.89,409.71 314.58,409.71 315.26,409.71" fill="none" stroke="#e84040" stroke-width="0.6"/>
<polyline points="168.2,409.71 168.88,409.71 169.57,409.71 170.25,409.71 170.94,409.71 171.62,409.7 172.3,409.7 172.99,409.7 173.67,409.7 174.36,409.7 175.04,409.7 175.72,409.7 176.41,409.69 177.09,409.69 177.78,409.69 178.46,409.69 179.14,409.69 179.83,409.68 180.51,409.68 181.2,409.68 181.88,409.68 182.56,409.68 183.25,409.67 183.93,409.67 184.62,409.67 185.3,409.67 185.98,409.66 186.67,409.66 187.35,409.66 188.04,409.66 188.72,409.65 189.4,409.65 190.09,409.65 190.77,409.65 191.46,409.64 192.14,409.64 192.82,409.64 193.51,409.63 194.19,409.63 194.88,409.63 195.56,409.62 196.24,409.62 196.93,409.61 197.61,409.61 198.3,409.61 198.98,409.6 199.66,409.6 200.35,409.59 201.03,409.59 201.72,409.58 202.4,409.58 203.08,409.57 203.77,409.57 204.45,409.56 205.14,409.56 205.82,409.55 206.5,409.54 207.19,409.54 207.87,409.53 208.56,409.52 209.24,409.52 209.92,409.51 210.61,409.5 211.29,409.49 211.98,409.48 212.66,409.47 213.34,409.46 214.03,409.45 214.71,409.44 215.4,409.43 216.08,409.42 216.76,409.41 217.45,409.4 218.13,409.39 218.82,409.37 219.5,409.36 220.18,409.34 220.87,409.33 221.55,409.31 222.24,409.29 222.92,409.28 223.6,409.26 224.29,409.24 224.97,409.22 225.66,409.19 226.34,409.17 227.02,409.14 227.71,409.12 228.39,409.09 229.08,409.06 229.76,409.03 230.44,408.99 231.13,408.96 231.81,408.92 232.5,408.88 233.18,408.83 233.86,408.78 234.55,408.73 235.23,408.68 235.92,408.62 236.6,408.56 237.28,408.49 237.97,408.41 238.65,408.33 239.34,408.25 240.02,408.15 240.7,408.05 241.39,407.94 242.07,407.81 242.76,407.68 243.44,407.53 244.12,407.37 244.81,407.19 245.49,406.99 246.18,406.77 246.86,406.53 247.54,406.26 248.23,405.96 248.91,405.63 249.6,405.26 250.28,404.86 250.96,404.4 251.65,403.91 252.33,403.36 253.02,402.76 253.7,402.12 254.38,401.43 255.07,400.72 255.75,399.99 256.44,399.28 257.12,398.61 257.8,398.04 258.49,397.59 259.17,397.3 259.86,397.2 260.54,397.3 261.22,397.59 261.91,398.04 262.59,398.61 263.28,399.28 263.96,399.99 264.64,400.72 265.33,401.43 266.01,402.12 266.7,402.76 267.38,403.36 268.06,403.91 268.75,404.4 269.43,404.86 270.12,405.26 270.8,405.63 271.48,405.96 272.17,406.26 272.85,406.53 273.54,406.77 274.22,406.99 274.9,407.19 275.59,407.37 276.27,407.53 276.96,407.68 277.64,407.81 278.32,407.94 279.01,408.05 279.69,408.15 280.38,408.25 281.06,408.33 281.74,408.41 282.43,408.49 283.11,408.56 283.8,408.62 284.48,408.68 285.16,408.73 285.85,408.78 286.53,408.83 287.22,408.88 287.9,408.92 288.58,408.96 289.27,408.99 289.95,409.03 290.64,409.06 291.32,409.09 292,409.12 292.69,409.14 293.37,409.17 294.06,409.19 294.74,409.22 295.42,409.24 296.11,409.26 296.79,409.28 297.48,409.29 298.16,409.31 298.84,409.33 299.53,409.34 300.21,409.36 300.9,409.37 301.58,409.39 302.26,409.4 302.95,409.41 303.63,409.42 304.32,409.43 305,409.44 305.68,409.45 306.37,409.46 307.05,409.47 307.74,409.48 308.42,409.49 309.1,409.5 309.79,409.51 310.47,409.52 311.16,409.52 311.84,409.53 312.52,409.54 313.21,409.54 313.89,409.55 314.58,409.56 315.26,409.56" fill="none" stroke="#55b055" stroke-width="0.6"/>
<polyline points="168.2,409.77 168.88,409.77 169.57,409.77 170.25,409.77 170.94,409.77 171.62,409.77 172.3,409.77 172.99,409.77 173.67,409.77 174.36,409.77 175.04,409.77 175.72,409.77 176.41,409.77 177.09,409.77 177.78,409.77 178.46,409.77 179.14,409.77 179.83,409.77 180.51,409.77 181.2,409.77 181.88,409.77 182.56,409.77 183.25,409.76 183.93,409.76 184.62,409.76 185.3,409.76 185.98,409.76 186.67,409.76 187.35,409.76 188.04,409.76 188.72,409.76 189.4,409.76 190.09,409.76 190.77,409.76 191.46,409.76 192.14,409.76 192.82,409.75 193.51,409.75 194.19,409.75 194.88,409.75 195.56,409.75 196.24,409.75 196.93,409.75 197.61,409.75 198.3,409.75 198.98,409.75 199.66,409.75 200.35,409.74 201.03,409.74 201.72,409.74 202.4,409.74 203.08,409.74 203.77,409.74 204.45,409.74 205.14,409.74 205.82,409.73 206.5,409.73 207.19,409.73 207.87,409.73 208.56,409.73 209.24,409.73 209.92,409.73 210.61,409.72 211.29,409.72 211.98,409.72 212.66,409.72 213.34,409.72 214.03,409.71 214.71,409.71 215.4,409.71 216.08,409.71 216.76,409.7 217.45,409.7 218.13,409.7 218.82,409.7 219.5,409.69 220.18,409.69 220.87,409.69 221.55,409.68 222.24,409.68 222.92,409.68 223.6,409.67 224.29,409.67 224.97,409.66 225.66,409.66 226.34,409.66 227.02,409.65 227.71,409.65 228.39,409.64 229.08,409.64 229.76,409.63 230.44,409.62 231.13,409.62 231.81,409.61 232.5,409.6 233.18,409.6 233.86,409.59 234.55,409.58 235.23,409.57 235.92,409.56 236.6,409.55 237.28,409.54 237.97,409.53 238.65,409.52 239.34,409.5 240.02,409.49 240.7,409.47 241.39,409.46 242.07,409.44 242.76,409.42 243.44,409.4 244.12,409.38 244.81,409.35 245.49,409.33 246.18,409.3 246.86,409.27 247.54,409.23 248.23,409.2 248.91,409.15 249.6,409.11 250.28,409.06 250.96,409 251.65,408.94 252.33,408.87 253.02,408.79 253.7,408.7 254.38,408.6 255.07,408.48 255.75,408.35 256.44,408.2 257.12,408.02 257.8,407.81 258.49,407.57 259.17,407.28 259.86,406.93 260.54,406.51 261.22,406 261.91,405.38 262.59,404.62 263.28,403.67 263.96,402.5 264.64,401.06 265.33,399.32 266.01,397.31 266.7,395.16 267.38,393.18 268.06,391.83 268.75,391.54 269.43,392.4 270.12,394.12 270.8,396.24 271.48,398.34 272.17,400.22 272.85,401.81 273.54,403.12 274.22,404.17 274.9,405.02 275.59,405.71 276.27,406.27 276.96,406.73 277.64,407.11 278.32,407.43 279.01,407.69 279.69,407.92 280.38,408.11 281.06,408.28 281.74,408.42 282.43,408.54 283.11,408.65 283.8,408.75 284.48,408.83 285.16,408.9 285.85,408.97 286.53,409.03 287.22,409.08 287.9,409.13 288.58,409.18 289.27,409.21 289.95,409.25 290.64,409.28 291.32,409.31 292,409.34 292.69,409.37 293.37,409.39 294.06,409.41 294.74,409.43 295.42,409.45 296.11,409.46 296.79,409.48 297.48,409.5 298.16,409.51 298.84,409.52 299.53,409.53 300.21,409.54 300.9,409.56 301.58,409.57 302.26,409.57 302.95,409.58 303.63,409.59 304.32,409.6 305,409.61 305.68,409.61 306.37,409.62 307.05,409.63 307.74,409.63 308.42,409.64 309.1,409.64 309.79,409.65 310.47,409.65 311.16,409.66 311.84,409.66 312.52,409.67 313.21,409.67 313.89,409.67 314.58,409.68 315.26,409.68" fill="none" stroke="#3a4af0" stroke-width="0.6"/>
<polyline points="168.2,409.8 168.88,409.8 169.57,409.8 170.25,409.79 170.94,409.79 171.62,409.79 172.3,409.79 172.99,409.79 173.67,409.79 174.36,409.79 175.04,409.79 175.72,409.79 176.41,409.79 177.09,409.79 177.78,409.79 178.46,409.79 179.14,409.79 179.83,409.79 180.51,409.79 181.2,409.79 181.88,409.79 182.56,409.79 183.25,409.79 183.93,409.79 184.62,409.79 185.3,409.79 185.98,409.79 186.67,409.79 187.35,409.79 188.04,409.79 188.72,409.79 189.4,409.79 190.09,409.79 190.77,409.79 191.46,409.79 192.14,409.79 192.82,409.79 193.51,409.79 194.19,409.79 194.88,409.79 195.56,409.79 196.24,409.79 196.93,409.79 197.61,409.79 198.3,409.79 198.98,409.79 199.66,409.79 200.35,409.79 201.03,409.79 201.72,409.79 202.4,409.79 203.08,409.79 203.77,409.79 204.45,409.79 205.14,409.79 205.82,409.79 206.5,409.79 207.19,409.79 207.87,409.79 208.56,409.79 209.24,409.79 209.92,409.79 210.61,409.79 211.29,409.79 211.98,409.79 212.66,409.79 213.34,409.79 214.03,409.78 214.71,409.78 215.4,409.78 216.08,409.78 216.76,409.78 217.45,409.78 218.13,409.78 218.82,409.78 219.5,409.78 220.18,409.78 220.87,409.78 221.55,409.78 222.24,409.78 222.92,409.78 223.6,409.78 224.29,409.78 224.97,409.78 225.66,409.78 226.34,409.78 227.02,409.78 227.71,409.77 228.39,409.77 229.08,409.77 229.76,409.77 230.44,409.77 231.13,409.77 231.81,409.77 232.5,409.77 233.18,409.77 233.86,409.77 234.55,409.76 235.23,409.76 235.92,409.76 236.6,409.76 237.28,409.76 237.97,409.76 238.65,409.76 239.34,409.75 240.02,409.75 240.7,409.75 241.39,409.75 242.07,409.75 242.76,409.74 243.44,409.74 244.12,409.74 244.81,409.74 245.49,409.73 246.18,409.73 246.86,409.72 247.54,409.72 248.23,409.72 248.91,409.71 249.6,409.71 250.28,409.7 250.96,409.7 251.65,409.69 252.33,409.68 253.02,409.67 253.7,409.67 254.38,409.66 255.07,409.64 255.75,409.63 256.44,409.62 257.12,409.6 257.8,409.59 258.49,409.57 259.17,409.55 259.86,409.52 260.54,409.49 261.22,409.46 261.91,409.42 262.59,409.37 263.28,409.31 263.96,409.25 264.64,409.16 265.33,409.06 266.01,408.94 266.7,408.77 267.38,408.57 268.06,408.29 268.75,407.92 269.43,407.41 270.12,406.71 270.8,405.72 271.48,404.38 272.17,402.71 272.85,401.11 273.54,400.4 274.22,401.11 274.9,402.71 275.59,404.38 276.27,405.72 276.96,406.71 277.64,407.41 278.32,407.92 279.01,408.29 279.69,408.57 280.38,408.77 281.06,408.94 281.74,409.06 282.43,409.16 283.11,409.25 283.8,409.31 284.48,409.37 285.16,409.42 285.85,409.46 286.53,409.49 287.22,409.52 287.9,409.55 288.58,409.57 289.27,409.59 289.95,409.6 290.64,409.62 291.32,409.63 292,409.64 292.69,409.66 293.37,409.67 294.06,409.67 294.74,409.68 295.42,409.69 296.11,409.7 296.79,409.7 297.48,409.71 298.16,409.71 298.84,409.72 299.53,409.72 300.21,409.72 300.9,409.73 301.58,409.73 302.26,409.74 302.95,409.74 303.63,409.74 304.32,409.74 305,409.75 305.68,409.75 306.37,409.75 307.05,409.75 307.74,409.75 308.42,409.76 309.1,409.76 309.79,409.76 310.47,409.76 311.16,409.76 311.84,409.76 312.52,409.76 313.21,409.77 313.89,409.77 314.58,409.77 315.26,409.77" fill="none" stroke="#b050c0" stroke-width="0.6"/>
<line x1="167.6" y1="409.9" x2="314" y2="409.9" stroke="#4a4af0" stroke-width="0.7"/>
<g stroke-width="0.7"><line x1="197.5" y1="407.5" x2="197.5" y2="415.3" stroke="#444"/><line x1="229.2" y1="386.5" x2="229.2" y2="415.3" stroke="#f4a0a0"/><line x1="259.9" y1="397.5" x2="259.9" y2="415.3" stroke="#a0d8a0"/><line x1="268.6" y1="391.5" x2="268.6" y2="415.3" stroke="#7080f0"/><line x1="273.5" y1="400.5" x2="273.5" y2="415.3" stroke="#d090d8"/></g>
<text x="226.6" y="382.5" font-size="7.6" fill="#ee2020" font-weight="bold" font-family="Liberation Sans">D</text>
<text x="195" y="403.3" font-size="8.2" fill="#111" font-weight="bold" font-family="Liberation Sans">D*</text>
<text x="266.2" y="380.4" font-size="7.6" fill="#2233ee" font-weight="bold" font-family="Liberation Sans">G</text>
<text x="255.4" y="388.8" font-size="7.6" fill="#33a033" font-weight="bold" font-family="Liberation Sans">D”</text>
<text x="272.5" y="388.2" font-size="7.6" fill="#9b2fb0" font-weight="bold" font-family="Liberation Sans">D’</text>
<text x="172" y="312.7" font-size="7.3" font-family="Liberation Sans" fill="#111">(I<tspan font-size="4.5" dy="1.5">D</tspan><tspan dy="-1.5">/I</tspan><tspan font-size="4.5" dy="1.5">G</tspan><tspan dy="-1.5">)</tspan><tspan font-size="4.5" dy="1.5">r</tspan></text>
<text x="174.9" y="326.7" font-size="7.3" fill="#2233ee" font-family="Liberation Sans">1,67</text>
<text x="174.9" y="342.7" font-size="7.3" fill="#ee2222" font-family="Liberation Sans">1,62</text>
<text x="174.9" y="358.6" font-size="7.3" fill="#33a033" font-family="Liberation Sans">1,48</text>
<text x="174.9" y="380.1" font-size="7.3" fill="#9b2fb0" font-family="Liberation Sans">1,46</text>
<text x="174.9" y="399.1" font-size="7.3" fill="#111" font-family="Liberation Sans">1,33</text>
<text x="311.6" y="325" text-anchor="end" font-size="7.3" fill="#2233ee" font-family="Liberation Sans">rGO-NT</text>
<text x="311.6" y="342.1" text-anchor="end" font-size="7.3" fill="#ee2222" font-family="Liberation Sans">rGO-90</text>
<text x="311.6" y="357.1" text-anchor="end" font-size="7.3" fill="#33a033" font-family="Liberation Sans">rGO-150</text>
<text x="311.6" y="380.1" text-anchor="end" font-size="7.3" fill="#9b2fb0" font-family="Liberation Sans">rGO-200</text>
<text x="311.6" y="403.1" text-anchor="end" font-size="7.3" fill="#111" font-family="Liberation Sans">rGO-250</text>
<text x="319.8" y="310.6" font-size="14" fill="#000" font-weight="bold" text-anchor="start" font-family="Liberation Sans" >j</text>
<text x="499.6" y="307.3" font-size="13.5" fill="#000" font-weight="bold" text-anchor="start" font-family="Liberation Sans" >k</text>
<polyline points="353.4,302 353.4,414.1 492.8,414.1" fill="none" stroke="#222" stroke-width="0.9"/><g stroke="#222" stroke-width="0.8"><line x1="351.4" y1="414.3" x2="353.4" y2="414.3"/><line x1="352.2" y1="403.1" x2="353.4" y2="403.1"/><line x1="351.4" y1="391.9" x2="353.4" y2="391.9"/><line x1="352.2" y1="380.7" x2="353.4" y2="380.7"/><line x1="351.4" y1="369.5" x2="353.4" y2="369.5"/><line x1="352.2" y1="358.3" x2="353.4" y2="358.3"/><line x1="351.4" y1="347.1" x2="353.4" y2="347.1"/><line x1="352.2" y1="335.9" x2="353.4" y2="335.9"/><line x1="351.4" y1="324.7" x2="353.4" y2="324.7"/><line x1="352.2" y1="313.5" x2="353.4" y2="313.5"/><line x1="351.4" y1="302.3" x2="353.4" y2="302.3"/><line x1="353.4" y1="414.1" x2="353.4" y2="416.1"/><line x1="365" y1="414.1" x2="365" y2="416.1"/><line x1="376.6" y1="414.1" x2="376.6" y2="416.1"/><line x1="388.2" y1="414.1" x2="388.2" y2="416.1"/><line x1="399.8" y1="414.1" x2="399.8" y2="416.1"/><line x1="411.4" y1="414.1" x2="411.4" y2="416.1"/><line x1="423" y1="414.1" x2="423" y2="416.1"/><line x1="434.6" y1="414.1" x2="434.6" y2="416.1"/><line x1="446.2" y1="414.1" x2="446.2" y2="416.1"/><line x1="457.8" y1="414.1" x2="457.8" y2="416.1"/><line x1="469.4" y1="414.1" x2="469.4" y2="416.1"/><line x1="481" y1="414.1" x2="481" y2="416.1"/><line x1="492.6" y1="414.1" x2="492.6" y2="416.1"/></g><text x="350.5" y="417" text-anchor="end" font-size="7.7" font-family="Liberation Sans" fill="#111">0.990</text><text x="350.5" y="394.6" text-anchor="end" font-size="7.7" font-family="Liberation Sans" fill="#111">0.995</text><text x="350.5" y="372.2" text-anchor="end" font-size="7.7" font-family="Liberation Sans" fill="#111">1.000</text><text x="350.5" y="349.8" text-anchor="end" font-size="7.7" font-family="Liberation Sans" fill="#111">1.005</text><text x="350.5" y="327.4" text-anchor="end" font-size="7.7" font-family="Liberation Sans" fill="#111">1.010</text><text x="350.5" y="305" text-anchor="end" font-size="7.7" font-family="Liberation Sans" fill="#111">1.015</text><text transform="translate(356,420.6) rotate(-45)" text-anchor="end" font-size="7.4" font-family="Liberation Sans" fill="#111">0</text><text transform="translate(367.6,420.6) rotate(-45)" text-anchor="end" font-size="7.4" font-family="Liberation Sans" fill="#111">20</text><text transform="translate(379.2,420.6) rotate(-45)" text-anchor="end" font-size="7.4" font-family="Liberation Sans" fill="#111">40</text><text transform="translate(390.8,420.6) rotate(-45)" text-anchor="end" font-size="7.4" font-family="Liberation Sans" fill="#111">60</text><text transform="translate(402.4,420.6) rotate(-45)" text-anchor="end" font-size="7.4" font-family="Liberation Sans" fill="#111">80</text><text transform="translate(414,420.6) rotate(-45)" text-anchor="end" font-size="7.4" font-family="Liberation Sans" fill="#111">100</text><text transform="translate(425.6,420.6) rotate(-45)" text-anchor="end" font-size="7.4" font-family="Liberation Sans" fill="#111">120</text><text transform="translate(437.2,420.6) rotate(-45)" text-anchor="end" font-size="7.4" font-family="Liberation Sans" fill="#111">140</text><text transform="translate(448.8,420.6) rotate(-45)" text-anchor="end" font-size="7.4" font-family="Liberation Sans" fill="#111">160</text><text transform="translate(460.4,420.6) rotate(-45)" text-anchor="end" font-size="7.4" font-family="Liberation Sans" fill="#111">180</text><text transform="translate(472,420.6) rotate(-45)" text-anchor="end" font-size="7.4" font-family="Liberation Sans" fill="#111">200</text><text transform="translate(483.6,420.6) rotate(-45)" text-anchor="end" font-size="7.4" font-family="Liberation Sans" fill="#111">220</text><text transform="translate(495.2,420.6) rotate(-45)" text-anchor="end" font-size="7.4" font-family="Liberation Sans" fill="#111">240</text>
<polyline points="534.9,302 534.9,414.1 677.6,414.1" fill="none" stroke="#222" stroke-width="0.9"/><g stroke="#222" stroke-width="0.8"><line x1="532.9" y1="414" x2="534.9" y2="414"/><line x1="533.7" y1="402.83" x2="534.9" y2="402.83"/><line x1="532.9" y1="391.65" x2="534.9" y2="391.65"/><line x1="533.7" y1="380.48" x2="534.9" y2="380.48"/><line x1="532.9" y1="369.3" x2="534.9" y2="369.3"/><line x1="533.7" y1="358.13" x2="534.9" y2="358.13"/><line x1="532.9" y1="346.95" x2="534.9" y2="346.95"/><line x1="533.7" y1="335.77" x2="534.9" y2="335.77"/><line x1="532.9" y1="324.6" x2="534.9" y2="324.6"/><line x1="533.7" y1="313.43" x2="534.9" y2="313.43"/><line x1="532.9" y1="302.25" x2="534.9" y2="302.25"/><line x1="534.9" y1="414.1" x2="534.9" y2="416.1"/><line x1="546.73" y1="414.1" x2="546.73" y2="416.1"/><line x1="558.56" y1="414.1" x2="558.56" y2="416.1"/><line x1="570.39" y1="414.1" x2="570.39" y2="416.1"/><line x1="582.22" y1="414.1" x2="582.22" y2="416.1"/><line x1="594.05" y1="414.1" x2="594.05" y2="416.1"/><line x1="605.88" y1="414.1" x2="605.88" y2="416.1"/><line x1="617.71" y1="414.1" x2="617.71" y2="416.1"/><line x1="629.54" y1="414.1" x2="629.54" y2="416.1"/><line x1="641.37" y1="414.1" x2="641.37" y2="416.1"/><line x1="653.2" y1="414.1" x2="653.2" y2="416.1"/><line x1="665.03" y1="414.1" x2="665.03" y2="416.1"/><line x1="676.86" y1="414.1" x2="676.86" y2="416.1"/></g><text x="530.4" y="416.7" text-anchor="end" font-size="7.7" font-family="Liberation Sans" fill="#111">0.990</text><text x="530.4" y="394.35" text-anchor="end" font-size="7.7" font-family="Liberation Sans" fill="#111">0.995</text><text x="530.4" y="372" text-anchor="end" font-size="7.7" font-family="Liberation Sans" fill="#111">1.000</text><text x="530.4" y="349.65" text-anchor="end" font-size="7.7" font-family="Liberation Sans" fill="#111">1.005</text><text x="530.4" y="327.3" text-anchor="end" font-size="7.7" font-family="Liberation Sans" fill="#111">1.010</text><text x="530.4" y="304.95" text-anchor="end" font-size="7.7" font-family="Liberation Sans" fill="#111">1.015</text><text transform="translate(537.5,420.6) rotate(-45)" text-anchor="end" font-size="7.4" font-family="Liberation Sans" fill="#111">0</text><text transform="translate(549.33,420.6) rotate(-45)" text-anchor="end" font-size="7.4" font-family="Liberation Sans" fill="#111">20</text><text transform="translate(561.16,420.6) rotate(-45)" text-anchor="end" font-size="7.4" font-family="Liberation Sans" fill="#111">40</text><text transform="translate(572.99,420.6) rotate(-45)" text-anchor="end" font-size="7.4" font-family="Liberation Sans" fill="#111">60</text><text transform="translate(584.82,420.6) rotate(-45)" text-anchor="end" font-size="7.4" font-family="Liberation Sans" fill="#111">80</text><text transform="translate(596.65,420.6) rotate(-45)" text-anchor="end" font-size="7.4" font-family="Liberation Sans" fill="#111">100</text><text transform="translate(608.48,420.6) rotate(-45)" text-anchor="end" font-size="7.4" font-family="Liberation Sans" fill="#111">120</text><text transform="translate(620.31,420.6) rotate(-45)" text-anchor="end" font-size="7.4" font-family="Liberation Sans" fill="#111">140</text><text transform="translate(632.14,420.6) rotate(-45)" text-anchor="end" font-size="7.4" font-family="Liberation Sans" fill="#111">160</text><text transform="translate(643.97,420.6) rotate(-45)" text-anchor="end" font-size="7.4" font-family="Liberation Sans" fill="#111">180</text><text transform="translate(655.8,420.6) rotate(-45)" text-anchor="end" font-size="7.4" font-family="Liberation Sans" fill="#111">200</text><text transform="translate(667.63,420.6) rotate(-45)" text-anchor="end" font-size="7.4" font-family="Liberation Sans" fill="#111">220</text><text transform="translate(679.46,420.6) rotate(-45)" text-anchor="end" font-size="7.4" font-family="Liberation Sans" fill="#111">240</text>
<text transform="translate(327.2,352.2) rotate(-90)" text-anchor="middle" font-size="8.1" font-family="Liberation Sans" fill="#111">Relative resistance (a.u.)</text>
<text transform="translate(504.9,354.8) rotate(-90)" text-anchor="middle" font-size="8.0" font-family="Liberation Sans" fill="#111">Relative resistance (a.u.)</text>
<text x="424.5" y="438.3" text-anchor="middle" font-size="7.4" font-family="Liberation Sans" fill="#111">Time (min)</text>
<text x="606.5" y="438.3" text-anchor="middle" font-size="7.4" font-family="Liberation Sans" fill="#111">Time (min)</text>
<text x="360" y="308.3" font-size="6.4" font-family="Liberation Sans" fill="#111">0% r.h.</text>
<text x="360" y="356.5" font-size="6.4" font-family="Liberation Sans" fill="#111">100 ppm</text>
<text x="395.3" y="352.4" font-size="6.4" font-family="Liberation Sans" fill="#111">200 ppm</text>
<text x="428.1" y="347.5" font-size="6.4" font-family="Liberation Sans" fill="#111">500 ppm</text>
<text x="458.9" y="324" font-size="6.4" font-family="Liberation Sans" fill="#111">1000 ppm</text>
<text x="538.1" y="306.3" font-size="6.4" font-family="Liberation Sans" fill="#111">90% r.h.</text>
<text x="544.1" y="331.1" font-size="6.4" font-family="Liberation Sans" fill="#111">100 ppm</text>
<text x="574.9" y="314.5" font-size="6.4" font-family="Liberation Sans" fill="#111">200 ppm</text>
<text x="611.2" y="309.5" font-size="6.4" font-family="Liberation Sans" fill="#111">500 ppm</text>
<text x="646.7" y="306.2" font-size="6.4" font-family="Liberation Sans" fill="#111">1000 ppm</text>
<circle cx="362.4" cy="379.5" r="2.3" fill="#1f2de6"/>
<text x="367.5" y="381.8" font-size="6.4" font-family="Liberation Sans" fill="#111">rGO-NT</text>
<circle cx="544" cy="380.9" r="2.3" fill="#1f2de6"/>
<text x="549.2" y="383.2" font-size="6.4" font-family="Liberation Sans" fill="#111">rGO-NT</text>
<circle cx="362.4" cy="386.2" r="2.3" fill="#e41d1d"/>
<text x="367.5" y="388.5" font-size="6.4" font-family="Liberation Sans" fill="#111">rGO-90</text>
<circle cx="544" cy="387.55" r="2.3" fill="#e41d1d"/>
<text x="549.2" y="389.85" font-size="6.4" font-family="Liberation Sans" fill="#111">rGO-90</text>
<circle cx="362.4" cy="392.9" r="2.3" fill="#3cc07a"/>
<text x="367.5" y="395.2" font-size="6.4" font-family="Liberation Sans" fill="#111">rGO-150</text>
<circle cx="544" cy="394.2" r="2.3" fill="#3cc07a"/>
<text x="549.2" y="396.5" font-size="6.4" font-family="Liberation Sans" fill="#111">rGO-150</text>
<circle cx="362.4" cy="399.6" r="2.3" fill="#8a2be2"/>
<text x="367.5" y="401.9" font-size="6.4" font-family="Liberation Sans" fill="#111">rGO-200</text>
<circle cx="544" cy="400.85" r="2.3" fill="#8a2be2"/>
<text x="549.2" y="403.15" font-size="6.4" font-family="Liberation Sans" fill="#111">rGO-200</text>
<circle cx="362.4" cy="406.3" r="2.3" fill="#111"/>
<text x="367.5" y="408.6" font-size="6.4" font-family="Liberation Sans" fill="#111">rGO-250</text>
<circle cx="544" cy="407.5" r="2.3" fill="#111"/>
<text x="549.2" y="409.8" font-size="6.4" font-family="Liberation Sans" fill="#111">rGO-250</text>
<polyline points="353.4,369.6 365,369.8 376,369.5 390,370 400,369.8 411,369.5 420,369.9 434,370 446,369.6 460,370 469,370.2 475,369.6 482,369.8 488,370.3" fill="none" stroke="#2233ee" stroke-width="0.9" stroke-linejoin="round"/>
<polyline points="353.4,370 365,370.2 368,367.5 376,364.5 388,366 400,367.5 411,363.2 420,364.5 434,366.4 440,361.5 446,359 458,363.5 469,368 471,361 476,358.5 481,357.1 488,358.5" fill="none" stroke="#3cc07a" stroke-width="0.9" stroke-linejoin="round"/>
<polyline points="353.4,370 365,370.5 368,367.5 376,365 388,367.5 400,369.3 411,363.8 420,367 434,371 440,365 446,361 458,369.5 469,377.6 471,364 476,360.5 481,358.9 484,364 488,371.6" fill="none" stroke="#8a2be2" stroke-width="0.9" stroke-linejoin="round"/>
<polyline points="353.4,370 365,370.8 368,366.5 376,364.5 388,366.5 400,368.8 411,364.3 420,368 434,371.6 440,366 446,360.7 450,362.5 469,372.5 470,355 475,344 480.6,333 482,336 485,350 488,355.3" fill="none" stroke="#e41d1d" stroke-width="1.1" stroke-linejoin="round"/>
<polyline points="353.4,370 365,370.5 366,366 368.2,363.3 372,361.8 376,360.9 377,362.5 381.7,366.4 389.6,372.8 399.9,376.7 400.5,366 402.3,363.3 405.5,361.7 411.5,360.1 412.5,364 417.6,371.7 424.4,377.3 433.9,382.4 434.8,362.6 436.5,357.5 439,355.8 443.5,358 446,360.7 447.5,364 449,370.7 456.2,385.2 463.4,393.3 468.9,397.8" fill="none" stroke="#111" stroke-width="0.9" stroke-linejoin="round"/>
<polyline points="471.2,350 472,346.5 474.3,341.7 476,343.5 478.5,341.5 480,345 481.5,342.5 483,365 485,385 487.7,400.4" fill="none" stroke="#111" stroke-width="0.9" stroke-linejoin="round"/>
<line x1="469.2" y1="398" x2="470.5" y2="350" stroke="#333" stroke-width="0.5" stroke-dasharray="0.6 0.8"/>
<line x1="399.9" y1="376.7" x2="400.3" y2="366" stroke="#333" stroke-width="0.5"/>
<polyline points="534.9,369.3 677.5,369.3" fill="none" stroke="#3344ee" stroke-width="1.1" stroke-linejoin="round"/>
<polyline points="534.9,369.3 546.7,369.3 547.5,362.4 553,366 558,368.5 561,369 575,367 590,364.3 600,361.1 610,357.4 620,355.6 640,352 660,349.3 677.5,346.6" fill="none" stroke="#e41d1d" stroke-width="0.9" stroke-linejoin="round"/>
<polyline points="534.9,369.3 546.7,369.3 548,358 550,351.5 557,349.8 558.5,350 559.9,353.4 566,353.4 575,352.6 582.5,352.5 584,344.3 594.3,341.6 596,348 600,350.2 609.6,352.5 617.5,354.7 618.5,346 629.5,346.6 631,354.7 640,359.3 653.2,362.3 655,352.6 660,351.1 667,351.5 668.5,358.3 677.5,361.6" fill="none" stroke="#3cc07a" stroke-width="0.9" stroke-linejoin="round"/>
<polyline points="534.9,369.3 546.7,369.3 548,358 550,351 553.5,345.6 558.4,342 566,339.5 575,337.5 582.5,334.7 586,327 594.3,322.6 600,324 609.6,323.5 617.5,326.1 618.2,322.1 629.5,319.4 630.5,324 653.2,327.6 654,322.1 667,318.5 668,323.1 677.5,323.1" fill="none" stroke="#8a2be2" stroke-width="0.9" stroke-linejoin="round"/>
<polyline points="534.9,369.3 546.7,369.3 548.1,357.9 549.9,348 553.5,341.6 557.1,336.2 558.4,335.3 559.9,342.5 566.2,341.6 575.2,340.2 582.5,338.9 583.4,330.8 586.1,323.5 589.7,319.9 594.3,319 595,325.3 598.8,329.9 609.6,330.8 617.5,333 618.2,316.7 621,314.5 629.5,313.1 630,325.8 632,335.7 640,340.2 653.2,343.5 654,320.3 657,316.4 667,313.1 668,331.2 671,337.5 677.5,339.9" fill="none" stroke="#111" stroke-width="0.9" stroke-linejoin="round"/>
<line x1="0" y1="148.8" x2="685" y2="148.8" stroke="#1f7a47" stroke-width="1.8" stroke-dasharray="3.6 3.25" stroke-dashoffset="0"/>
<line x1="0" y1="293" x2="685" y2="293" stroke="#2b8552" stroke-width="1.8" stroke-dasharray="3.6 3.24" stroke-dashoffset="1.84"/>
<rect x="0" y="0" width="685" height="1.1" fill="#1a1010"/>
<rect x="0" y="0" width="1.5" height="442" fill="#1a1010"/>
<rect x="683" y="0" width="2" height="442" fill="#1a1010"/>
<rect x="0" y="440.5" width="685" height="1.5" fill="#1a1010"/></svg></body></html>
